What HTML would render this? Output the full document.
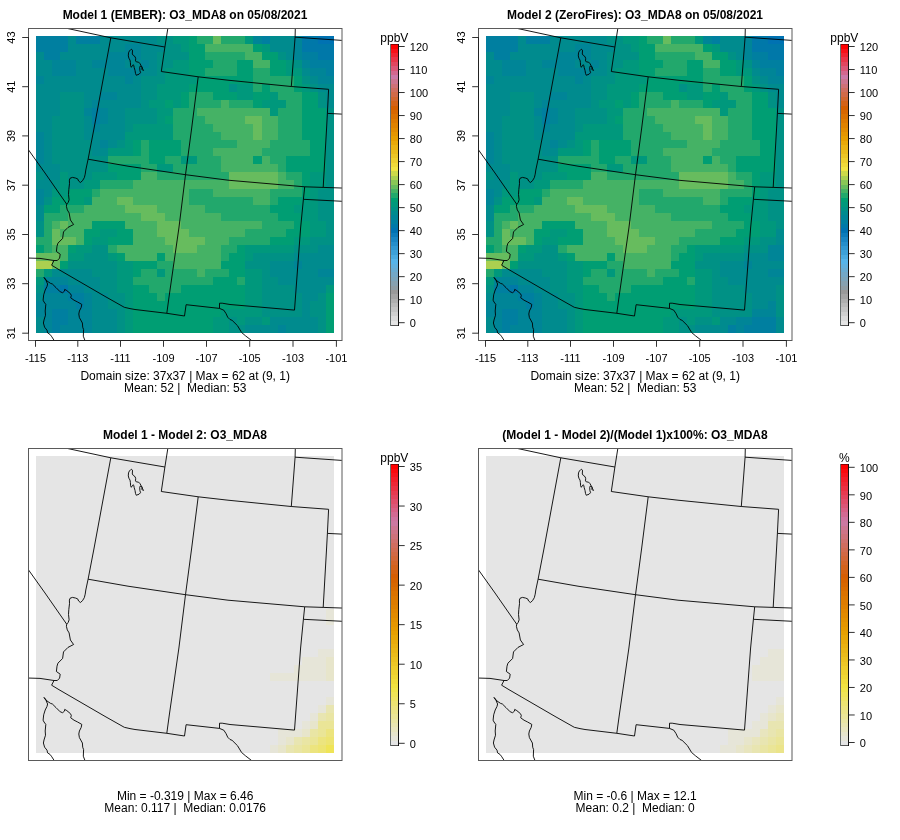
<!DOCTYPE html>
<html><head><meta charset="utf-8"><style>html,body{margin:0;padding:0;background:#fff;}svg{display:block;}</style></head>
<body><svg width="900" height="840" viewBox="0 0 900 840" font-family="Liberation Sans, sans-serif" fill="#000" style="will-change:transform">
<clipPath id="c1"><rect x="28.5" y="28.5" width="313.5" height="312.0"/></clipPath>
<text x="185.0" y="19.0" text-anchor="middle" font-size="12" font-weight="bold">Model 1 (EMBER): O3_MDA8 on 05/08/2021</text>
<g shape-rendering="crispEdges">
<rect x="36.00" y="36.00" width="32.22" height="8.03" fill="#007fa0"/>
<rect x="68.22" y="36.00" width="8.05" height="8.03" fill="#008b8e"/>
<rect x="76.27" y="36.00" width="24.16" height="8.03" fill="#007fa0"/>
<rect x="100.43" y="36.00" width="56.38" height="8.03" fill="#008b8e"/>
<rect x="156.81" y="36.00" width="16.11" height="8.03" fill="#009185"/>
<rect x="172.92" y="36.00" width="16.11" height="8.03" fill="#00987c"/>
<rect x="189.03" y="36.00" width="8.05" height="8.03" fill="#009e73"/>
<rect x="197.08" y="36.00" width="16.11" height="8.03" fill="#22a86c"/>
<rect x="213.19" y="36.00" width="8.05" height="8.03" fill="#67bc5e"/>
<rect x="221.24" y="36.00" width="24.16" height="8.03" fill="#22a86c"/>
<rect x="245.41" y="36.00" width="8.05" height="8.03" fill="#00987c"/>
<rect x="253.46" y="36.00" width="8.05" height="8.03" fill="#008597"/>
<rect x="261.51" y="36.00" width="8.05" height="8.03" fill="#007fa0"/>
<rect x="269.57" y="36.00" width="24.16" height="8.03" fill="#008b8e"/>
<rect x="293.73" y="36.00" width="8.05" height="8.03" fill="#008597"/>
<rect x="301.78" y="36.00" width="16.11" height="8.03" fill="#0078a9"/>
<rect x="317.89" y="36.00" width="16.11" height="8.03" fill="#0072b2"/>
<rect x="36.00" y="44.03" width="32.22" height="8.03" fill="#007fa0"/>
<rect x="68.22" y="44.03" width="56.38" height="8.03" fill="#008b8e"/>
<rect x="124.59" y="44.03" width="16.11" height="8.03" fill="#008597"/>
<rect x="140.70" y="44.03" width="24.16" height="8.03" fill="#008b8e"/>
<rect x="164.86" y="44.03" width="16.11" height="8.03" fill="#009185"/>
<rect x="180.97" y="44.03" width="8.05" height="8.03" fill="#00987c"/>
<rect x="189.03" y="44.03" width="16.11" height="8.03" fill="#009e73"/>
<rect x="205.14" y="44.03" width="48.32" height="8.03" fill="#45b265"/>
<rect x="253.46" y="44.03" width="8.05" height="8.03" fill="#009e73"/>
<rect x="261.51" y="44.03" width="8.05" height="8.03" fill="#00987c"/>
<rect x="269.57" y="44.03" width="24.16" height="8.03" fill="#008b8e"/>
<rect x="293.73" y="44.03" width="8.05" height="8.03" fill="#008597"/>
<rect x="301.78" y="44.03" width="32.22" height="8.03" fill="#0078a9"/>
<rect x="36.00" y="52.05" width="8.05" height="8.03" fill="#008b8e"/>
<rect x="44.05" y="52.05" width="16.11" height="8.03" fill="#007fa0"/>
<rect x="60.16" y="52.05" width="48.32" height="8.03" fill="#008b8e"/>
<rect x="108.49" y="52.05" width="32.22" height="8.03" fill="#008597"/>
<rect x="140.70" y="52.05" width="16.11" height="8.03" fill="#008b8e"/>
<rect x="156.81" y="52.05" width="32.22" height="8.03" fill="#009185"/>
<rect x="189.03" y="52.05" width="16.11" height="8.03" fill="#009e73"/>
<rect x="205.14" y="52.05" width="40.27" height="8.03" fill="#22a86c"/>
<rect x="245.41" y="52.05" width="16.11" height="8.03" fill="#45b265"/>
<rect x="261.51" y="52.05" width="16.11" height="8.03" fill="#009e73"/>
<rect x="277.62" y="52.05" width="8.05" height="8.03" fill="#009185"/>
<rect x="285.68" y="52.05" width="8.05" height="8.03" fill="#008b8e"/>
<rect x="293.73" y="52.05" width="8.05" height="8.03" fill="#008597"/>
<rect x="301.78" y="52.05" width="16.11" height="8.03" fill="#007fa0"/>
<rect x="317.89" y="52.05" width="16.11" height="8.03" fill="#0078a9"/>
<rect x="36.00" y="60.08" width="16.11" height="8.03" fill="#008b8e"/>
<rect x="52.11" y="60.08" width="24.16" height="8.03" fill="#008597"/>
<rect x="76.27" y="60.08" width="16.11" height="8.03" fill="#008b8e"/>
<rect x="92.38" y="60.08" width="32.22" height="8.03" fill="#008597"/>
<rect x="124.59" y="60.08" width="16.11" height="8.03" fill="#008b8e"/>
<rect x="140.70" y="60.08" width="8.05" height="8.03" fill="#008597"/>
<rect x="148.76" y="60.08" width="8.05" height="8.03" fill="#008b8e"/>
<rect x="156.81" y="60.08" width="16.11" height="8.03" fill="#009185"/>
<rect x="172.92" y="60.08" width="16.11" height="8.03" fill="#00987c"/>
<rect x="189.03" y="60.08" width="24.16" height="8.03" fill="#009e73"/>
<rect x="213.19" y="60.08" width="24.16" height="8.03" fill="#22a86c"/>
<rect x="237.35" y="60.08" width="16.11" height="8.03" fill="#009e73"/>
<rect x="253.46" y="60.08" width="16.11" height="8.03" fill="#45b265"/>
<rect x="269.57" y="60.08" width="16.11" height="8.03" fill="#009e73"/>
<rect x="285.68" y="60.08" width="8.05" height="8.03" fill="#00987c"/>
<rect x="293.73" y="60.08" width="8.05" height="8.03" fill="#009185"/>
<rect x="301.78" y="60.08" width="8.05" height="8.03" fill="#008597"/>
<rect x="309.84" y="60.08" width="24.16" height="8.03" fill="#007fa0"/>
<rect x="36.00" y="68.11" width="16.11" height="8.03" fill="#008b8e"/>
<rect x="52.11" y="68.11" width="24.16" height="8.03" fill="#008597"/>
<rect x="76.27" y="68.11" width="32.22" height="8.03" fill="#008b8e"/>
<rect x="108.49" y="68.11" width="32.22" height="8.03" fill="#008597"/>
<rect x="140.70" y="68.11" width="16.11" height="8.03" fill="#008b8e"/>
<rect x="156.81" y="68.11" width="8.05" height="8.03" fill="#009185"/>
<rect x="164.86" y="68.11" width="24.16" height="8.03" fill="#00987c"/>
<rect x="189.03" y="68.11" width="16.11" height="8.03" fill="#009e73"/>
<rect x="205.14" y="68.11" width="32.22" height="8.03" fill="#22a86c"/>
<rect x="237.35" y="68.11" width="16.11" height="8.03" fill="#009e73"/>
<rect x="253.46" y="68.11" width="16.11" height="8.03" fill="#22a86c"/>
<rect x="269.57" y="68.11" width="16.11" height="8.03" fill="#009e73"/>
<rect x="285.68" y="68.11" width="16.11" height="8.03" fill="#00987c"/>
<rect x="301.78" y="68.11" width="8.05" height="8.03" fill="#008b8e"/>
<rect x="309.84" y="68.11" width="16.11" height="8.03" fill="#008597"/>
<rect x="325.95" y="68.11" width="8.05" height="8.03" fill="#007fa0"/>
<rect x="36.00" y="76.14" width="8.05" height="8.03" fill="#008597"/>
<rect x="44.05" y="76.14" width="80.54" height="8.03" fill="#008b8e"/>
<rect x="124.59" y="76.14" width="8.05" height="8.03" fill="#008597"/>
<rect x="132.65" y="76.14" width="8.05" height="8.03" fill="#008b8e"/>
<rect x="140.70" y="76.14" width="24.16" height="8.03" fill="#009185"/>
<rect x="164.86" y="76.14" width="32.22" height="8.03" fill="#00987c"/>
<rect x="197.08" y="76.14" width="56.38" height="8.03" fill="#009e73"/>
<rect x="253.46" y="76.14" width="40.27" height="8.03" fill="#22a86c"/>
<rect x="293.73" y="76.14" width="8.05" height="8.03" fill="#009e73"/>
<rect x="301.78" y="76.14" width="8.05" height="8.03" fill="#009185"/>
<rect x="309.84" y="76.14" width="8.05" height="8.03" fill="#008b8e"/>
<rect x="317.89" y="76.14" width="16.11" height="8.03" fill="#008597"/>
<rect x="36.00" y="84.16" width="104.70" height="8.03" fill="#008b8e"/>
<rect x="140.70" y="84.16" width="16.11" height="8.03" fill="#009185"/>
<rect x="156.81" y="84.16" width="32.22" height="8.03" fill="#00987c"/>
<rect x="189.03" y="84.16" width="40.27" height="8.03" fill="#009e73"/>
<rect x="229.30" y="84.16" width="8.05" height="8.03" fill="#009185"/>
<rect x="237.35" y="84.16" width="16.11" height="8.03" fill="#00987c"/>
<rect x="253.46" y="84.16" width="8.05" height="8.03" fill="#22a86c"/>
<rect x="261.51" y="84.16" width="8.05" height="8.03" fill="#009e73"/>
<rect x="269.57" y="84.16" width="24.16" height="8.03" fill="#22a86c"/>
<rect x="293.73" y="84.16" width="8.05" height="8.03" fill="#009e73"/>
<rect x="301.78" y="84.16" width="8.05" height="8.03" fill="#00987c"/>
<rect x="309.84" y="84.16" width="8.05" height="8.03" fill="#009185"/>
<rect x="317.89" y="84.16" width="16.11" height="8.03" fill="#008b8e"/>
<rect x="36.00" y="92.19" width="24.16" height="8.03" fill="#008b8e"/>
<rect x="60.16" y="92.19" width="24.16" height="8.03" fill="#009185"/>
<rect x="84.32" y="92.19" width="16.11" height="8.03" fill="#008b8e"/>
<rect x="100.43" y="92.19" width="16.11" height="8.03" fill="#008597"/>
<rect x="116.54" y="92.19" width="24.16" height="8.03" fill="#008b8e"/>
<rect x="140.70" y="92.19" width="16.11" height="8.03" fill="#009185"/>
<rect x="156.81" y="92.19" width="24.16" height="8.03" fill="#00987c"/>
<rect x="180.97" y="92.19" width="8.05" height="8.03" fill="#009e73"/>
<rect x="189.03" y="92.19" width="24.16" height="8.03" fill="#22a86c"/>
<rect x="213.19" y="92.19" width="24.16" height="8.03" fill="#009e73"/>
<rect x="237.35" y="92.19" width="16.11" height="8.03" fill="#00987c"/>
<rect x="253.46" y="92.19" width="16.11" height="8.03" fill="#009e73"/>
<rect x="269.57" y="92.19" width="8.05" height="8.03" fill="#00987c"/>
<rect x="277.62" y="92.19" width="24.16" height="8.03" fill="#22a86c"/>
<rect x="301.78" y="92.19" width="16.11" height="8.03" fill="#009e73"/>
<rect x="317.89" y="92.19" width="8.05" height="8.03" fill="#009185"/>
<rect x="325.95" y="92.19" width="8.05" height="8.03" fill="#008b8e"/>
<rect x="36.00" y="100.22" width="24.16" height="8.03" fill="#008b8e"/>
<rect x="60.16" y="100.22" width="24.16" height="8.03" fill="#009185"/>
<rect x="84.32" y="100.22" width="8.05" height="8.03" fill="#008b8e"/>
<rect x="92.38" y="100.22" width="8.05" height="8.03" fill="#008597"/>
<rect x="100.43" y="100.22" width="40.27" height="8.03" fill="#008b8e"/>
<rect x="140.70" y="100.22" width="8.05" height="8.03" fill="#009185"/>
<rect x="148.76" y="100.22" width="16.11" height="8.03" fill="#00987c"/>
<rect x="164.86" y="100.22" width="8.05" height="8.03" fill="#009e73"/>
<rect x="172.92" y="100.22" width="8.05" height="8.03" fill="#00987c"/>
<rect x="180.97" y="100.22" width="8.05" height="8.03" fill="#009e73"/>
<rect x="189.03" y="100.22" width="32.22" height="8.03" fill="#22a86c"/>
<rect x="221.24" y="100.22" width="8.05" height="8.03" fill="#45b265"/>
<rect x="229.30" y="100.22" width="24.16" height="8.03" fill="#22a86c"/>
<rect x="253.46" y="100.22" width="8.05" height="8.03" fill="#009e73"/>
<rect x="261.51" y="100.22" width="24.16" height="8.03" fill="#00987c"/>
<rect x="285.68" y="100.22" width="16.11" height="8.03" fill="#22a86c"/>
<rect x="301.78" y="100.22" width="16.11" height="8.03" fill="#009e73"/>
<rect x="317.89" y="100.22" width="8.05" height="8.03" fill="#009185"/>
<rect x="325.95" y="100.22" width="8.05" height="8.03" fill="#008b8e"/>
<rect x="36.00" y="108.24" width="24.16" height="8.03" fill="#008b8e"/>
<rect x="60.16" y="108.24" width="24.16" height="8.03" fill="#009185"/>
<rect x="84.32" y="108.24" width="8.05" height="8.03" fill="#008597"/>
<rect x="92.38" y="108.24" width="8.05" height="8.03" fill="#007fa0"/>
<rect x="100.43" y="108.24" width="8.05" height="8.03" fill="#008597"/>
<rect x="108.49" y="108.24" width="16.11" height="8.03" fill="#008b8e"/>
<rect x="124.59" y="108.24" width="32.22" height="8.03" fill="#009185"/>
<rect x="156.81" y="108.24" width="16.11" height="8.03" fill="#00987c"/>
<rect x="172.92" y="108.24" width="24.16" height="8.03" fill="#22a86c"/>
<rect x="197.08" y="108.24" width="72.49" height="8.03" fill="#45b265"/>
<rect x="269.57" y="108.24" width="8.05" height="8.03" fill="#00987c"/>
<rect x="277.62" y="108.24" width="24.16" height="8.03" fill="#22a86c"/>
<rect x="301.78" y="108.24" width="24.16" height="8.03" fill="#009e73"/>
<rect x="325.95" y="108.24" width="8.05" height="8.03" fill="#009185"/>
<rect x="36.00" y="116.27" width="16.11" height="8.03" fill="#008b8e"/>
<rect x="52.11" y="116.27" width="32.22" height="8.03" fill="#009185"/>
<rect x="84.32" y="116.27" width="8.05" height="8.03" fill="#008b8e"/>
<rect x="92.38" y="116.27" width="8.05" height="8.03" fill="#007fa0"/>
<rect x="100.43" y="116.27" width="8.05" height="8.03" fill="#008597"/>
<rect x="108.49" y="116.27" width="16.11" height="8.03" fill="#008b8e"/>
<rect x="124.59" y="116.27" width="32.22" height="8.03" fill="#009185"/>
<rect x="156.81" y="116.27" width="8.05" height="8.03" fill="#00987c"/>
<rect x="164.86" y="116.27" width="8.05" height="8.03" fill="#009e73"/>
<rect x="172.92" y="116.27" width="32.22" height="8.03" fill="#22a86c"/>
<rect x="205.14" y="116.27" width="40.27" height="8.03" fill="#45b265"/>
<rect x="245.41" y="116.27" width="16.11" height="8.03" fill="#67bc5e"/>
<rect x="261.51" y="116.27" width="16.11" height="8.03" fill="#45b265"/>
<rect x="277.62" y="116.27" width="24.16" height="8.03" fill="#22a86c"/>
<rect x="301.78" y="116.27" width="24.16" height="8.03" fill="#009e73"/>
<rect x="325.95" y="116.27" width="8.05" height="8.03" fill="#009185"/>
<rect x="36.00" y="124.30" width="16.11" height="8.03" fill="#008b8e"/>
<rect x="52.11" y="124.30" width="32.22" height="8.03" fill="#009185"/>
<rect x="84.32" y="124.30" width="8.05" height="8.03" fill="#008b8e"/>
<rect x="92.38" y="124.30" width="8.05" height="8.03" fill="#008597"/>
<rect x="100.43" y="124.30" width="24.16" height="8.03" fill="#008b8e"/>
<rect x="124.59" y="124.30" width="8.05" height="8.03" fill="#009185"/>
<rect x="132.65" y="124.30" width="40.27" height="8.03" fill="#00987c"/>
<rect x="172.92" y="124.30" width="40.27" height="8.03" fill="#22a86c"/>
<rect x="213.19" y="124.30" width="40.27" height="8.03" fill="#45b265"/>
<rect x="253.46" y="124.30" width="8.05" height="8.03" fill="#67bc5e"/>
<rect x="261.51" y="124.30" width="16.11" height="8.03" fill="#45b265"/>
<rect x="277.62" y="124.30" width="24.16" height="8.03" fill="#22a86c"/>
<rect x="301.78" y="124.30" width="24.16" height="8.03" fill="#009e73"/>
<rect x="325.95" y="124.30" width="8.05" height="8.03" fill="#009185"/>
<rect x="36.00" y="132.32" width="8.05" height="8.03" fill="#008597"/>
<rect x="44.05" y="132.32" width="8.05" height="8.03" fill="#008b8e"/>
<rect x="52.11" y="132.32" width="32.22" height="8.03" fill="#009185"/>
<rect x="84.32" y="132.32" width="40.27" height="8.03" fill="#008b8e"/>
<rect x="124.59" y="132.32" width="48.32" height="8.03" fill="#00987c"/>
<rect x="172.92" y="132.32" width="48.32" height="8.03" fill="#22a86c"/>
<rect x="221.24" y="132.32" width="32.22" height="8.03" fill="#45b265"/>
<rect x="253.46" y="132.32" width="8.05" height="8.03" fill="#67bc5e"/>
<rect x="261.51" y="132.32" width="16.11" height="8.03" fill="#45b265"/>
<rect x="277.62" y="132.32" width="24.16" height="8.03" fill="#22a86c"/>
<rect x="301.78" y="132.32" width="24.16" height="8.03" fill="#009e73"/>
<rect x="325.95" y="132.32" width="8.05" height="8.03" fill="#009185"/>
<rect x="36.00" y="140.35" width="8.05" height="8.03" fill="#008597"/>
<rect x="44.05" y="140.35" width="8.05" height="8.03" fill="#008b8e"/>
<rect x="52.11" y="140.35" width="40.27" height="8.03" fill="#009185"/>
<rect x="92.38" y="140.35" width="8.05" height="8.03" fill="#008b8e"/>
<rect x="100.43" y="140.35" width="8.05" height="8.03" fill="#008597"/>
<rect x="108.49" y="140.35" width="8.05" height="8.03" fill="#008b8e"/>
<rect x="116.54" y="140.35" width="8.05" height="8.03" fill="#009185"/>
<rect x="124.59" y="140.35" width="8.05" height="8.03" fill="#00987c"/>
<rect x="132.65" y="140.35" width="8.05" height="8.03" fill="#009e73"/>
<rect x="140.70" y="140.35" width="8.05" height="8.03" fill="#22a86c"/>
<rect x="148.76" y="140.35" width="32.22" height="8.03" fill="#009e73"/>
<rect x="180.97" y="140.35" width="56.38" height="8.03" fill="#22a86c"/>
<rect x="237.35" y="140.35" width="32.22" height="8.03" fill="#45b265"/>
<rect x="269.57" y="140.35" width="40.27" height="8.03" fill="#22a86c"/>
<rect x="309.84" y="140.35" width="16.11" height="8.03" fill="#009e73"/>
<rect x="325.95" y="140.35" width="8.05" height="8.03" fill="#009185"/>
<rect x="36.00" y="148.38" width="8.05" height="8.03" fill="#008597"/>
<rect x="44.05" y="148.38" width="8.05" height="8.03" fill="#008b8e"/>
<rect x="52.11" y="148.38" width="40.27" height="8.03" fill="#009185"/>
<rect x="92.38" y="148.38" width="16.11" height="8.03" fill="#008b8e"/>
<rect x="108.49" y="148.38" width="24.16" height="8.03" fill="#00987c"/>
<rect x="132.65" y="148.38" width="8.05" height="8.03" fill="#009e73"/>
<rect x="140.70" y="148.38" width="8.05" height="8.03" fill="#22a86c"/>
<rect x="148.76" y="148.38" width="32.22" height="8.03" fill="#009e73"/>
<rect x="180.97" y="148.38" width="32.22" height="8.03" fill="#22a86c"/>
<rect x="213.19" y="148.38" width="48.32" height="8.03" fill="#45b265"/>
<rect x="261.51" y="148.38" width="48.32" height="8.03" fill="#22a86c"/>
<rect x="309.84" y="148.38" width="16.11" height="8.03" fill="#009e73"/>
<rect x="325.95" y="148.38" width="8.05" height="8.03" fill="#009185"/>
<rect x="36.00" y="156.41" width="8.05" height="8.03" fill="#008597"/>
<rect x="44.05" y="156.41" width="8.05" height="8.03" fill="#008b8e"/>
<rect x="52.11" y="156.41" width="56.38" height="8.03" fill="#009185"/>
<rect x="108.49" y="156.41" width="40.27" height="8.03" fill="#22a86c"/>
<rect x="148.76" y="156.41" width="16.11" height="8.03" fill="#009e73"/>
<rect x="164.86" y="156.41" width="16.11" height="8.03" fill="#22a86c"/>
<rect x="180.97" y="156.41" width="16.11" height="8.03" fill="#00987c"/>
<rect x="197.08" y="156.41" width="24.16" height="8.03" fill="#22a86c"/>
<rect x="221.24" y="156.41" width="32.22" height="8.03" fill="#45b265"/>
<rect x="253.46" y="156.41" width="8.05" height="8.03" fill="#009e73"/>
<rect x="261.51" y="156.41" width="8.05" height="8.03" fill="#45b265"/>
<rect x="269.57" y="156.41" width="16.11" height="8.03" fill="#22a86c"/>
<rect x="285.68" y="156.41" width="40.27" height="8.03" fill="#009e73"/>
<rect x="325.95" y="156.41" width="8.05" height="8.03" fill="#009185"/>
<rect x="36.00" y="164.43" width="24.16" height="8.03" fill="#008b8e"/>
<rect x="60.16" y="164.43" width="48.32" height="8.03" fill="#009185"/>
<rect x="108.49" y="164.43" width="32.22" height="8.03" fill="#009e73"/>
<rect x="140.70" y="164.43" width="16.11" height="8.03" fill="#22a86c"/>
<rect x="156.81" y="164.43" width="16.11" height="8.03" fill="#00987c"/>
<rect x="172.92" y="164.43" width="48.32" height="8.03" fill="#22a86c"/>
<rect x="221.24" y="164.43" width="56.38" height="8.03" fill="#45b265"/>
<rect x="277.62" y="164.43" width="8.05" height="8.03" fill="#22a86c"/>
<rect x="285.68" y="164.43" width="40.27" height="8.03" fill="#009e73"/>
<rect x="325.95" y="164.43" width="8.05" height="8.03" fill="#009185"/>
<rect x="36.00" y="172.46" width="8.05" height="8.03" fill="#009185"/>
<rect x="44.05" y="172.46" width="16.11" height="8.03" fill="#008b8e"/>
<rect x="60.16" y="172.46" width="8.05" height="8.03" fill="#00987c"/>
<rect x="68.22" y="172.46" width="24.16" height="8.03" fill="#009185"/>
<rect x="92.38" y="172.46" width="24.16" height="8.03" fill="#00987c"/>
<rect x="116.54" y="172.46" width="24.16" height="8.03" fill="#009e73"/>
<rect x="140.70" y="172.46" width="16.11" height="8.03" fill="#45b265"/>
<rect x="156.81" y="172.46" width="72.49" height="8.03" fill="#22a86c"/>
<rect x="229.30" y="172.46" width="48.32" height="8.03" fill="#67bc5e"/>
<rect x="277.62" y="172.46" width="8.05" height="8.03" fill="#45b265"/>
<rect x="285.68" y="172.46" width="16.11" height="8.03" fill="#22a86c"/>
<rect x="301.78" y="172.46" width="8.05" height="8.03" fill="#009e73"/>
<rect x="309.84" y="172.46" width="16.11" height="8.03" fill="#00987c"/>
<rect x="325.95" y="172.46" width="8.05" height="8.03" fill="#009185"/>
<rect x="36.00" y="180.49" width="16.11" height="8.03" fill="#008b8e"/>
<rect x="52.11" y="180.49" width="8.05" height="8.03" fill="#009185"/>
<rect x="60.16" y="180.49" width="8.05" height="8.03" fill="#00987c"/>
<rect x="68.22" y="180.49" width="16.11" height="8.03" fill="#009185"/>
<rect x="84.32" y="180.49" width="16.11" height="8.03" fill="#00987c"/>
<rect x="100.43" y="180.49" width="32.22" height="8.03" fill="#22a86c"/>
<rect x="132.65" y="180.49" width="96.65" height="8.03" fill="#45b265"/>
<rect x="229.30" y="180.49" width="48.32" height="8.03" fill="#67bc5e"/>
<rect x="277.62" y="180.49" width="16.11" height="8.03" fill="#45b265"/>
<rect x="293.73" y="180.49" width="8.05" height="8.03" fill="#22a86c"/>
<rect x="301.78" y="180.49" width="8.05" height="8.03" fill="#009e73"/>
<rect x="309.84" y="180.49" width="16.11" height="8.03" fill="#00987c"/>
<rect x="325.95" y="180.49" width="8.05" height="8.03" fill="#009185"/>
<rect x="36.00" y="188.51" width="8.05" height="8.03" fill="#008597"/>
<rect x="44.05" y="188.51" width="8.05" height="8.03" fill="#008b8e"/>
<rect x="52.11" y="188.51" width="16.11" height="8.03" fill="#00987c"/>
<rect x="68.22" y="188.51" width="24.16" height="8.03" fill="#009e73"/>
<rect x="92.38" y="188.51" width="8.05" height="8.03" fill="#22a86c"/>
<rect x="100.43" y="188.51" width="88.59" height="8.03" fill="#45b265"/>
<rect x="189.03" y="188.51" width="24.16" height="8.03" fill="#22a86c"/>
<rect x="213.19" y="188.51" width="56.38" height="8.03" fill="#45b265"/>
<rect x="269.57" y="188.51" width="32.22" height="8.03" fill="#22a86c"/>
<rect x="301.78" y="188.51" width="8.05" height="8.03" fill="#009e73"/>
<rect x="309.84" y="188.51" width="8.05" height="8.03" fill="#00987c"/>
<rect x="317.89" y="188.51" width="16.11" height="8.03" fill="#009185"/>
<rect x="36.00" y="196.54" width="8.05" height="8.03" fill="#008597"/>
<rect x="44.05" y="196.54" width="8.05" height="8.03" fill="#009185"/>
<rect x="52.11" y="196.54" width="32.22" height="8.03" fill="#009e73"/>
<rect x="84.32" y="196.54" width="8.05" height="8.03" fill="#00987c"/>
<rect x="92.38" y="196.54" width="24.16" height="8.03" fill="#45b265"/>
<rect x="116.54" y="196.54" width="16.11" height="8.03" fill="#67bc5e"/>
<rect x="132.65" y="196.54" width="56.38" height="8.03" fill="#45b265"/>
<rect x="189.03" y="196.54" width="64.43" height="8.03" fill="#22a86c"/>
<rect x="253.46" y="196.54" width="16.11" height="8.03" fill="#45b265"/>
<rect x="269.57" y="196.54" width="8.05" height="8.03" fill="#22a86c"/>
<rect x="277.62" y="196.54" width="24.16" height="8.03" fill="#009e73"/>
<rect x="301.78" y="196.54" width="16.11" height="8.03" fill="#00987c"/>
<rect x="317.89" y="196.54" width="16.11" height="8.03" fill="#009185"/>
<rect x="36.00" y="204.57" width="8.05" height="8.03" fill="#008b8e"/>
<rect x="44.05" y="204.57" width="16.11" height="8.03" fill="#009e73"/>
<rect x="60.16" y="204.57" width="24.16" height="8.03" fill="#22a86c"/>
<rect x="84.32" y="204.57" width="40.27" height="8.03" fill="#45b265"/>
<rect x="124.59" y="204.57" width="32.22" height="8.03" fill="#67bc5e"/>
<rect x="156.81" y="204.57" width="48.32" height="8.03" fill="#45b265"/>
<rect x="205.14" y="204.57" width="64.43" height="8.03" fill="#22a86c"/>
<rect x="269.57" y="204.57" width="24.16" height="8.03" fill="#009e73"/>
<rect x="293.73" y="204.57" width="24.16" height="8.03" fill="#00987c"/>
<rect x="317.89" y="204.57" width="16.11" height="8.03" fill="#009185"/>
<rect x="36.00" y="212.59" width="8.05" height="8.03" fill="#008b8e"/>
<rect x="44.05" y="212.59" width="24.16" height="8.03" fill="#22a86c"/>
<rect x="68.22" y="212.59" width="72.49" height="8.03" fill="#45b265"/>
<rect x="140.70" y="212.59" width="24.16" height="8.03" fill="#67bc5e"/>
<rect x="164.86" y="212.59" width="56.38" height="8.03" fill="#45b265"/>
<rect x="221.24" y="212.59" width="56.38" height="8.03" fill="#22a86c"/>
<rect x="277.62" y="212.59" width="24.16" height="8.03" fill="#009e73"/>
<rect x="301.78" y="212.59" width="16.11" height="8.03" fill="#00987c"/>
<rect x="317.89" y="212.59" width="16.11" height="8.03" fill="#009185"/>
<rect x="36.00" y="220.62" width="8.05" height="8.03" fill="#009185"/>
<rect x="44.05" y="220.62" width="8.05" height="8.03" fill="#22a86c"/>
<rect x="52.11" y="220.62" width="8.05" height="8.03" fill="#45b265"/>
<rect x="60.16" y="220.62" width="8.05" height="8.03" fill="#67bc5e"/>
<rect x="68.22" y="220.62" width="24.16" height="8.03" fill="#45b265"/>
<rect x="92.38" y="220.62" width="32.22" height="8.03" fill="#009e73"/>
<rect x="124.59" y="220.62" width="32.22" height="8.03" fill="#45b265"/>
<rect x="156.81" y="220.62" width="24.16" height="8.03" fill="#67bc5e"/>
<rect x="180.97" y="220.62" width="80.54" height="8.03" fill="#45b265"/>
<rect x="261.51" y="220.62" width="32.22" height="8.03" fill="#22a86c"/>
<rect x="293.73" y="220.62" width="16.11" height="8.03" fill="#009e73"/>
<rect x="309.84" y="220.62" width="16.11" height="8.03" fill="#00987c"/>
<rect x="325.95" y="220.62" width="8.05" height="8.03" fill="#009185"/>
<rect x="36.00" y="228.65" width="8.05" height="8.03" fill="#009185"/>
<rect x="44.05" y="228.65" width="8.05" height="8.03" fill="#22a86c"/>
<rect x="52.11" y="228.65" width="8.05" height="8.03" fill="#67bc5e"/>
<rect x="60.16" y="228.65" width="24.16" height="8.03" fill="#45b265"/>
<rect x="84.32" y="228.65" width="16.11" height="8.03" fill="#009e73"/>
<rect x="100.43" y="228.65" width="16.11" height="8.03" fill="#00987c"/>
<rect x="116.54" y="228.65" width="16.11" height="8.03" fill="#009e73"/>
<rect x="132.65" y="228.65" width="24.16" height="8.03" fill="#45b265"/>
<rect x="156.81" y="228.65" width="32.22" height="8.03" fill="#67bc5e"/>
<rect x="189.03" y="228.65" width="56.38" height="8.03" fill="#45b265"/>
<rect x="245.41" y="228.65" width="40.27" height="8.03" fill="#22a86c"/>
<rect x="285.68" y="228.65" width="24.16" height="8.03" fill="#009e73"/>
<rect x="309.84" y="228.65" width="16.11" height="8.03" fill="#00987c"/>
<rect x="325.95" y="228.65" width="8.05" height="8.03" fill="#009185"/>
<rect x="36.00" y="236.68" width="16.11" height="8.03" fill="#22a86c"/>
<rect x="52.11" y="236.68" width="24.16" height="8.03" fill="#67bc5e"/>
<rect x="76.27" y="236.68" width="8.05" height="8.03" fill="#45b265"/>
<rect x="84.32" y="236.68" width="8.05" height="8.03" fill="#009e73"/>
<rect x="92.38" y="236.68" width="16.11" height="8.03" fill="#00987c"/>
<rect x="108.49" y="236.68" width="24.16" height="8.03" fill="#009e73"/>
<rect x="132.65" y="236.68" width="32.22" height="8.03" fill="#45b265"/>
<rect x="164.86" y="236.68" width="40.27" height="8.03" fill="#67bc5e"/>
<rect x="205.14" y="236.68" width="24.16" height="8.03" fill="#45b265"/>
<rect x="229.30" y="236.68" width="40.27" height="8.03" fill="#22a86c"/>
<rect x="269.57" y="236.68" width="24.16" height="8.03" fill="#009e73"/>
<rect x="293.73" y="236.68" width="16.11" height="8.03" fill="#00987c"/>
<rect x="309.84" y="236.68" width="24.16" height="8.03" fill="#009185"/>
<rect x="36.00" y="244.70" width="8.05" height="8.03" fill="#009e73"/>
<rect x="44.05" y="244.70" width="8.05" height="8.03" fill="#22a86c"/>
<rect x="52.11" y="244.70" width="16.11" height="8.03" fill="#45b265"/>
<rect x="68.22" y="244.70" width="8.05" height="8.03" fill="#009e73"/>
<rect x="76.27" y="244.70" width="16.11" height="8.03" fill="#00987c"/>
<rect x="92.38" y="244.70" width="16.11" height="8.03" fill="#009185"/>
<rect x="108.49" y="244.70" width="8.05" height="8.03" fill="#22a86c"/>
<rect x="116.54" y="244.70" width="56.38" height="8.03" fill="#45b265"/>
<rect x="172.92" y="244.70" width="24.16" height="8.03" fill="#67bc5e"/>
<rect x="197.08" y="244.70" width="24.16" height="8.03" fill="#45b265"/>
<rect x="221.24" y="244.70" width="16.11" height="8.03" fill="#22a86c"/>
<rect x="237.35" y="244.70" width="8.05" height="8.03" fill="#009e73"/>
<rect x="245.41" y="244.70" width="48.32" height="8.03" fill="#00987c"/>
<rect x="293.73" y="244.70" width="24.16" height="8.03" fill="#009185"/>
<rect x="317.89" y="244.70" width="16.11" height="8.03" fill="#008b8e"/>
<rect x="36.00" y="252.73" width="24.16" height="8.03" fill="#67bc5e"/>
<rect x="60.16" y="252.73" width="8.05" height="8.03" fill="#45b265"/>
<rect x="68.22" y="252.73" width="16.11" height="8.03" fill="#00987c"/>
<rect x="84.32" y="252.73" width="24.16" height="8.03" fill="#009185"/>
<rect x="108.49" y="252.73" width="8.05" height="8.03" fill="#00987c"/>
<rect x="116.54" y="252.73" width="8.05" height="8.03" fill="#009e73"/>
<rect x="124.59" y="252.73" width="32.22" height="8.03" fill="#45b265"/>
<rect x="156.81" y="252.73" width="8.05" height="8.03" fill="#009e73"/>
<rect x="164.86" y="252.73" width="56.38" height="8.03" fill="#45b265"/>
<rect x="221.24" y="252.73" width="8.05" height="8.03" fill="#22a86c"/>
<rect x="229.30" y="252.73" width="16.11" height="8.03" fill="#009e73"/>
<rect x="245.41" y="252.73" width="8.05" height="8.03" fill="#00987c"/>
<rect x="253.46" y="252.73" width="40.27" height="8.03" fill="#009185"/>
<rect x="293.73" y="252.73" width="40.27" height="8.03" fill="#008b8e"/>
<rect x="36.00" y="260.76" width="16.11" height="8.03" fill="#abd050"/>
<rect x="52.11" y="260.76" width="8.05" height="8.03" fill="#67bc5e"/>
<rect x="60.16" y="260.76" width="8.05" height="8.03" fill="#009e73"/>
<rect x="68.22" y="260.76" width="48.32" height="8.03" fill="#009185"/>
<rect x="116.54" y="260.76" width="16.11" height="8.03" fill="#00987c"/>
<rect x="132.65" y="260.76" width="24.16" height="8.03" fill="#009e73"/>
<rect x="156.81" y="260.76" width="16.11" height="8.03" fill="#22a86c"/>
<rect x="172.92" y="260.76" width="48.32" height="8.03" fill="#45b265"/>
<rect x="221.24" y="260.76" width="24.16" height="8.03" fill="#009e73"/>
<rect x="245.41" y="260.76" width="24.16" height="8.03" fill="#009185"/>
<rect x="269.57" y="260.76" width="24.16" height="8.03" fill="#008b8e"/>
<rect x="293.73" y="260.76" width="8.05" height="8.03" fill="#008597"/>
<rect x="301.78" y="260.76" width="32.22" height="8.03" fill="#008b8e"/>
<rect x="36.00" y="268.78" width="8.05" height="8.03" fill="#22a86c"/>
<rect x="44.05" y="268.78" width="8.05" height="8.03" fill="#00987c"/>
<rect x="52.11" y="268.78" width="40.27" height="8.03" fill="#008b8e"/>
<rect x="92.38" y="268.78" width="24.16" height="8.03" fill="#009185"/>
<rect x="116.54" y="268.78" width="16.11" height="8.03" fill="#00987c"/>
<rect x="132.65" y="268.78" width="8.05" height="8.03" fill="#009e73"/>
<rect x="140.70" y="268.78" width="16.11" height="8.03" fill="#22a86c"/>
<rect x="156.81" y="268.78" width="8.05" height="8.03" fill="#00987c"/>
<rect x="164.86" y="268.78" width="32.22" height="8.03" fill="#22a86c"/>
<rect x="197.08" y="268.78" width="8.05" height="8.03" fill="#45b265"/>
<rect x="205.14" y="268.78" width="24.16" height="8.03" fill="#22a86c"/>
<rect x="229.30" y="268.78" width="16.11" height="8.03" fill="#009e73"/>
<rect x="245.41" y="268.78" width="16.11" height="8.03" fill="#00987c"/>
<rect x="261.51" y="268.78" width="8.05" height="8.03" fill="#009185"/>
<rect x="269.57" y="268.78" width="48.32" height="8.03" fill="#008b8e"/>
<rect x="317.89" y="268.78" width="16.11" height="8.03" fill="#008597"/>
<rect x="36.00" y="276.81" width="8.05" height="8.03" fill="#00987c"/>
<rect x="44.05" y="276.81" width="24.16" height="8.03" fill="#008597"/>
<rect x="68.22" y="276.81" width="32.22" height="8.03" fill="#008b8e"/>
<rect x="100.43" y="276.81" width="16.11" height="8.03" fill="#009185"/>
<rect x="116.54" y="276.81" width="16.11" height="8.03" fill="#00987c"/>
<rect x="132.65" y="276.81" width="80.54" height="8.03" fill="#22a86c"/>
<rect x="213.19" y="276.81" width="24.16" height="8.03" fill="#009e73"/>
<rect x="237.35" y="276.81" width="8.05" height="8.03" fill="#22a86c"/>
<rect x="245.41" y="276.81" width="16.11" height="8.03" fill="#00987c"/>
<rect x="261.51" y="276.81" width="16.11" height="8.03" fill="#009185"/>
<rect x="277.62" y="276.81" width="56.38" height="8.03" fill="#008b8e"/>
<rect x="36.00" y="284.84" width="8.05" height="8.03" fill="#009185"/>
<rect x="44.05" y="284.84" width="16.11" height="8.03" fill="#007fa0"/>
<rect x="60.16" y="284.84" width="8.05" height="8.03" fill="#0078a9"/>
<rect x="68.22" y="284.84" width="16.11" height="8.03" fill="#008597"/>
<rect x="84.32" y="284.84" width="16.11" height="8.03" fill="#008b8e"/>
<rect x="100.43" y="284.84" width="16.11" height="8.03" fill="#009185"/>
<rect x="116.54" y="284.84" width="16.11" height="8.03" fill="#00987c"/>
<rect x="132.65" y="284.84" width="16.11" height="8.03" fill="#009e73"/>
<rect x="148.76" y="284.84" width="32.22" height="8.03" fill="#22a86c"/>
<rect x="180.97" y="284.84" width="64.43" height="8.03" fill="#009e73"/>
<rect x="245.41" y="284.84" width="16.11" height="8.03" fill="#00987c"/>
<rect x="261.51" y="284.84" width="32.22" height="8.03" fill="#009185"/>
<rect x="293.73" y="284.84" width="32.22" height="8.03" fill="#008b8e"/>
<rect x="325.95" y="284.84" width="8.05" height="8.03" fill="#00987c"/>
<rect x="36.00" y="292.86" width="8.05" height="8.03" fill="#008b8e"/>
<rect x="44.05" y="292.86" width="24.16" height="8.03" fill="#008597"/>
<rect x="68.22" y="292.86" width="16.11" height="8.03" fill="#007fa0"/>
<rect x="84.32" y="292.86" width="8.05" height="8.03" fill="#008597"/>
<rect x="92.38" y="292.86" width="16.11" height="8.03" fill="#008b8e"/>
<rect x="108.49" y="292.86" width="16.11" height="8.03" fill="#009185"/>
<rect x="124.59" y="292.86" width="8.05" height="8.03" fill="#00987c"/>
<rect x="132.65" y="292.86" width="24.16" height="8.03" fill="#009e73"/>
<rect x="156.81" y="292.86" width="8.05" height="8.03" fill="#22a86c"/>
<rect x="164.86" y="292.86" width="80.54" height="8.03" fill="#009e73"/>
<rect x="245.41" y="292.86" width="16.11" height="8.03" fill="#00987c"/>
<rect x="261.51" y="292.86" width="40.27" height="8.03" fill="#009185"/>
<rect x="301.78" y="292.86" width="16.11" height="8.03" fill="#008b8e"/>
<rect x="317.89" y="292.86" width="8.05" height="8.03" fill="#009185"/>
<rect x="325.95" y="292.86" width="8.05" height="8.03" fill="#009e73"/>
<rect x="36.00" y="300.89" width="40.27" height="8.03" fill="#008597"/>
<rect x="76.27" y="300.89" width="8.05" height="8.03" fill="#007fa0"/>
<rect x="84.32" y="300.89" width="8.05" height="8.03" fill="#008597"/>
<rect x="92.38" y="300.89" width="16.11" height="8.03" fill="#008b8e"/>
<rect x="108.49" y="300.89" width="16.11" height="8.03" fill="#009185"/>
<rect x="124.59" y="300.89" width="8.05" height="8.03" fill="#00987c"/>
<rect x="132.65" y="300.89" width="112.76" height="8.03" fill="#009e73"/>
<rect x="245.41" y="300.89" width="16.11" height="8.03" fill="#00987c"/>
<rect x="261.51" y="300.89" width="40.27" height="8.03" fill="#009185"/>
<rect x="301.78" y="300.89" width="8.05" height="8.03" fill="#008b8e"/>
<rect x="309.84" y="300.89" width="16.11" height="8.03" fill="#009185"/>
<rect x="325.95" y="300.89" width="8.05" height="8.03" fill="#009e73"/>
<rect x="36.00" y="308.92" width="16.11" height="8.03" fill="#008597"/>
<rect x="52.11" y="308.92" width="16.11" height="8.03" fill="#007fa0"/>
<rect x="68.22" y="308.92" width="24.16" height="8.03" fill="#008597"/>
<rect x="92.38" y="308.92" width="24.16" height="8.03" fill="#008b8e"/>
<rect x="116.54" y="308.92" width="8.05" height="8.03" fill="#009185"/>
<rect x="124.59" y="308.92" width="8.05" height="8.03" fill="#00987c"/>
<rect x="132.65" y="308.92" width="88.59" height="8.03" fill="#009e73"/>
<rect x="221.24" y="308.92" width="40.27" height="8.03" fill="#00987c"/>
<rect x="261.51" y="308.92" width="40.27" height="8.03" fill="#009185"/>
<rect x="301.78" y="308.92" width="8.05" height="8.03" fill="#008b8e"/>
<rect x="309.84" y="308.92" width="16.11" height="8.03" fill="#009185"/>
<rect x="325.95" y="308.92" width="8.05" height="8.03" fill="#009e73"/>
<rect x="36.00" y="316.95" width="8.05" height="8.03" fill="#008b8e"/>
<rect x="44.05" y="316.95" width="8.05" height="8.03" fill="#008597"/>
<rect x="52.11" y="316.95" width="16.11" height="8.03" fill="#007fa0"/>
<rect x="68.22" y="316.95" width="24.16" height="8.03" fill="#008597"/>
<rect x="92.38" y="316.95" width="24.16" height="8.03" fill="#008b8e"/>
<rect x="116.54" y="316.95" width="8.05" height="8.03" fill="#009185"/>
<rect x="124.59" y="316.95" width="8.05" height="8.03" fill="#00987c"/>
<rect x="132.65" y="316.95" width="80.54" height="8.03" fill="#009e73"/>
<rect x="213.19" y="316.95" width="16.11" height="8.03" fill="#00987c"/>
<rect x="229.30" y="316.95" width="8.05" height="8.03" fill="#009185"/>
<rect x="237.35" y="316.95" width="8.05" height="8.03" fill="#00987c"/>
<rect x="245.41" y="316.95" width="16.11" height="8.03" fill="#009185"/>
<rect x="261.51" y="316.95" width="8.05" height="8.03" fill="#00987c"/>
<rect x="269.57" y="316.95" width="48.32" height="8.03" fill="#008b8e"/>
<rect x="317.89" y="316.95" width="8.05" height="8.03" fill="#009185"/>
<rect x="325.95" y="316.95" width="8.05" height="8.03" fill="#009e73"/>
<rect x="36.00" y="324.97" width="8.05" height="8.03" fill="#008b8e"/>
<rect x="44.05" y="324.97" width="8.05" height="8.03" fill="#008597"/>
<rect x="52.11" y="324.97" width="8.05" height="8.03" fill="#007fa0"/>
<rect x="60.16" y="324.97" width="32.22" height="8.03" fill="#008597"/>
<rect x="92.38" y="324.97" width="24.16" height="8.03" fill="#008b8e"/>
<rect x="116.54" y="324.97" width="8.05" height="8.03" fill="#009185"/>
<rect x="124.59" y="324.97" width="8.05" height="8.03" fill="#00987c"/>
<rect x="132.65" y="324.97" width="80.54" height="8.03" fill="#009e73"/>
<rect x="213.19" y="324.97" width="16.11" height="8.03" fill="#00987c"/>
<rect x="229.30" y="324.97" width="16.11" height="8.03" fill="#009185"/>
<rect x="245.41" y="324.97" width="32.22" height="8.03" fill="#008b8e"/>
<rect x="277.62" y="324.97" width="8.05" height="8.03" fill="#008597"/>
<rect x="285.68" y="324.97" width="32.22" height="8.03" fill="#008b8e"/>
<rect x="317.89" y="324.97" width="8.05" height="8.03" fill="#009185"/>
<rect x="325.95" y="324.97" width="8.05" height="8.03" fill="#009e73"/>
</g>
<g clip-path="url(#c1)" fill="none" stroke="#000" stroke-width="0.9" stroke-linejoin="round">
<polyline points="50.0,24.7 65.3,28.0 110.8,37.8 164.9,47.0"/>
<polyline points="169.2,20.0 167.9,28.0 164.9,47.0 161.3,71.5"/>
<polyline points="161.3,71.5 198.2,76.8 228.0,80.2 291.3,86.5 328.6,89.3"/>
<polyline points="295.4,20.0 295.3,28.0 295.1,37.2 291.3,86.5"/>
<polyline points="295.1,37.2 341.7,40.4 350.0,41.0"/>
<polyline points="328.6,89.3 327.4,113.4 350.0,114.5"/>
<polyline points="327.4,113.4 326.6,128.0 323.2,187.4"/>
<polyline points="88.1,159.2 128.0,166.2 185.5,174.7 228.0,180.2 304.7,186.8 323.2,187.4 350.0,188.3"/>
<polyline points="304.7,186.8 303.4,199.3 350.0,201.7"/>
<polyline points="303.4,199.3 300.6,228.0 294.5,310.1"/>
<polyline points="219.5,303.2 222.2,303.2 230.0,304.5 294.5,310.1"/>
<polyline points="198.2,76.8 191.7,128.0 185.5,174.7 178.9,228.0 169.3,295.0 166.8,313.3"/>
<polyline points="110.8,37.8 94.1,128.0 88.1,159.2"/>
<polyline points="88.1,159.2 85.8,170.0 85.2,174.2 84.3,177.7 82.5,180.7 80.4,182.5 78.6,181.0 77.7,178.9 75.4,178.0 72.4,177.4 70.0,178.3 69.4,180.1 69.5,183.7 68.8,189.6 68.5,194.4 69.1,199.8 68.2,202.4 66.7,204.2 66.4,206.3 67.3,209.9 69.1,212.9 70.4,220.0 73.6,224.5 68.0,227.4 63.5,231.9 62.6,238.5 57.9,243.2 57.0,246.2 56.4,251.5 60.2,254.2 59.6,258.1 57.3,260.5 54.0,260.5 51.6,265.2 59.0,269.7 105.0,296.4 124.3,307.3 130.0,308.6 135.0,309.5 166.8,313.3 184.5,316.0 186.1,304.7 219.5,308.4 219.5,303.2"/>
<polyline points="219.5,308.4 223.8,310.2 226.1,313.7 227.7,317.2 230.0,319.5 232.1,320.3 237.5,325.7 241.6,332.5 245.6,335.9 251.7,340.6 254.0,343.0"/>
<polyline points="20.0,137.7 28.0,149.2 45.0,173.0 66.7,204.2"/>
<polyline points="20.0,257.8 40.0,258.4 54.0,260.5"/>
<polyline points="44.0,277.4 47.0,281.0 50.6,283.4 52.4,284.0 56.0,287.6 60.2,291.8 62.6,292.7 64.4,291.2 64.7,289.4 66.8,290.6 70.4,293.6 71.3,295.4 70.7,297.8 74.0,300.2 77.6,302.0 81.8,304.4 81.2,307.4 79.4,311.0 78.8,314.0 79.4,317.6 82.4,323.0 82.7,327.2 83.6,329.6 83.3,336.2 84.8,340.1 85.5,343.0"/>
<polyline points="44.0,277.4 46.0,280.5 47.6,284.0 47.0,286.4 45.2,290.0 43.7,294.8 43.1,300.2 44.0,302.0 45.8,304.4 45.2,311.0 45.5,315.2 44.0,320.0 43.4,323.0 44.6,327.2 47.0,330.2 47.6,332.9 50.0,334.4 51.8,336.8 53.9,340.1 55.5,343.0"/>
<polyline points="131.7,49.4 132.5,50.2 132.3,54.0 133.4,55.5 135.1,56.7 135.7,58.6 135.5,60.9 136.5,62.0 138.4,62.0 139.9,63.5 141.0,65.4 142.2,67.3 142.6,68.9 143.5,70.4 142.8,70.4 142.0,69.6 141.8,67.3 141.0,66.2 140.1,66.2 139.7,67.3 139.9,70.4 140.5,72.7 139.1,74.2 136.9,75.0 136.3,75.3 135.5,73.4 135.0,70.4 134.2,67.7 133.8,65.4 133.0,64.7 132.3,65.8 131.3,67.3 130.6,65.8 130.4,62.4 130.0,60.1 128.9,58.2 128.3,55.9 128.5,52.9 129.4,51.0 130.8,49.6 131.7,49.4"/>
</g>
<rect x="28.5" y="28.5" width="313.5" height="312" fill="none" stroke="#5a5a5a" stroke-width="1"/>
<line x1="35.0" y1="340.5" x2="336.9" y2="340.5" stroke="#222"/>
<line x1="28.5" y1="37.0" x2="28.5" y2="333.7" stroke="#222"/>
<line x1="35.5" y1="340.5" x2="35.5" y2="346.8" stroke="#333" stroke-width="1"/>
<text x="35.5" y="362" text-anchor="middle" font-size="11">-115</text>
<line x1="77.8" y1="340.5" x2="77.8" y2="346.8" stroke="#333" stroke-width="1"/>
<text x="77.8" y="362" text-anchor="middle" font-size="11">-113</text>
<line x1="120.5" y1="340.5" x2="120.5" y2="346.8" stroke="#333" stroke-width="1"/>
<text x="120.5" y="362" text-anchor="middle" font-size="11">-111</text>
<line x1="163.5" y1="340.5" x2="163.5" y2="346.8" stroke="#333" stroke-width="1"/>
<text x="163.5" y="362" text-anchor="middle" font-size="11">-109</text>
<line x1="206.5" y1="340.5" x2="206.5" y2="346.8" stroke="#333" stroke-width="1"/>
<text x="206.5" y="362" text-anchor="middle" font-size="11">-107</text>
<line x1="249.7" y1="340.5" x2="249.7" y2="346.8" stroke="#333" stroke-width="1"/>
<text x="249.7" y="362" text-anchor="middle" font-size="11">-105</text>
<line x1="293.0" y1="340.5" x2="293.0" y2="346.8" stroke="#333" stroke-width="1"/>
<text x="293.0" y="362" text-anchor="middle" font-size="11">-103</text>
<line x1="336.4" y1="340.5" x2="336.4" y2="346.8" stroke="#333" stroke-width="1"/>
<text x="336.4" y="362" text-anchor="middle" font-size="11">-101</text>
<line x1="22.2" y1="37.5" x2="28.5" y2="37.5" stroke="#333" stroke-width="1"/>
<text transform="translate(14.6 37.5) rotate(-90)" text-anchor="middle" font-size="11">43</text>
<line x1="22.2" y1="86.7" x2="28.5" y2="86.7" stroke="#333" stroke-width="1"/>
<text transform="translate(14.6 86.7) rotate(-90)" text-anchor="middle" font-size="11">41</text>
<line x1="22.2" y1="135.9" x2="28.5" y2="135.9" stroke="#333" stroke-width="1"/>
<text transform="translate(14.6 135.9) rotate(-90)" text-anchor="middle" font-size="11">39</text>
<line x1="22.2" y1="185.2" x2="28.5" y2="185.2" stroke="#333" stroke-width="1"/>
<text transform="translate(14.6 185.2) rotate(-90)" text-anchor="middle" font-size="11">37</text>
<line x1="22.2" y1="234.5" x2="28.5" y2="234.5" stroke="#333" stroke-width="1"/>
<text transform="translate(14.6 234.5) rotate(-90)" text-anchor="middle" font-size="11">35</text>
<line x1="22.2" y1="283.7" x2="28.5" y2="283.7" stroke="#333" stroke-width="1"/>
<text transform="translate(14.6 283.7) rotate(-90)" text-anchor="middle" font-size="11">33</text>
<line x1="22.2" y1="333.2" x2="28.5" y2="333.2" stroke="#333" stroke-width="1"/>
<text transform="translate(14.6 333.2) rotate(-90)" text-anchor="middle" font-size="11">31</text>
<text x="185.2" y="380.4" text-anchor="middle" font-size="12">Domain size: 37x37 | Max = 62 at (9, 1)</text>
<text x="185.2" y="392.4" text-anchor="middle" font-size="12" xml:space="preserve">Mean: 52 |  Median: 53</text>
<g shape-rendering="crispEdges">
<rect x="391.0" y="320.61" width="7" height="4.39" fill="#e5e5e5"/>
<rect x="391.0" y="316.22" width="7" height="4.39" fill="#dadada"/>
<rect x="391.0" y="311.84" width="7" height="4.39" fill="#cfcfcf"/>
<rect x="391.0" y="307.45" width="7" height="4.39" fill="#c4c4c4"/>
<rect x="391.0" y="303.06" width="7" height="4.39" fill="#bababa"/>
<rect x="391.0" y="298.67" width="7" height="4.39" fill="#afafaf"/>
<rect x="391.0" y="294.29" width="7" height="4.39" fill="#a4a4a4"/>
<rect x="391.0" y="289.90" width="7" height="4.39" fill="#999999"/>
<rect x="391.0" y="285.51" width="7" height="4.39" fill="#8f9da4"/>
<rect x="391.0" y="281.12" width="7" height="4.39" fill="#86a1b0"/>
<rect x="391.0" y="276.74" width="7" height="4.39" fill="#7ca5bb"/>
<rect x="391.0" y="272.35" width="7" height="4.39" fill="#73a8c7"/>
<rect x="391.0" y="267.96" width="7" height="4.39" fill="#69acd2"/>
<rect x="391.0" y="263.57" width="7" height="4.39" fill="#60b0de"/>
<rect x="391.0" y="259.19" width="7" height="4.39" fill="#56b4e9"/>
<rect x="391.0" y="254.80" width="7" height="4.39" fill="#4aabe1"/>
<rect x="391.0" y="250.41" width="7" height="4.39" fill="#3da1d9"/>
<rect x="391.0" y="246.02" width="7" height="4.39" fill="#3198d1"/>
<rect x="391.0" y="241.64" width="7" height="4.39" fill="#258eca"/>
<rect x="391.0" y="237.25" width="7" height="4.39" fill="#1985c2"/>
<rect x="391.0" y="232.86" width="7" height="4.39" fill="#0c7bba"/>
<rect x="391.0" y="228.47" width="7" height="4.39" fill="#0072b2"/>
<rect x="391.0" y="224.09" width="7" height="4.39" fill="#0078a9"/>
<rect x="391.0" y="219.70" width="7" height="4.39" fill="#007fa0"/>
<rect x="391.0" y="215.31" width="7" height="4.39" fill="#008597"/>
<rect x="391.0" y="210.92" width="7" height="4.39" fill="#008b8e"/>
<rect x="391.0" y="206.54" width="7" height="4.39" fill="#009185"/>
<rect x="391.0" y="202.15" width="7" height="4.39" fill="#00987c"/>
<rect x="391.0" y="197.76" width="7" height="4.39" fill="#009e73"/>
<rect x="391.0" y="193.37" width="7" height="4.39" fill="#22a86c"/>
<rect x="391.0" y="188.99" width="7" height="4.39" fill="#45b265"/>
<rect x="391.0" y="184.60" width="7" height="4.39" fill="#67bc5e"/>
<rect x="391.0" y="180.21" width="7" height="4.39" fill="#89c657"/>
<rect x="391.0" y="175.82" width="7" height="4.39" fill="#abd050"/>
<rect x="391.0" y="171.44" width="7" height="4.39" fill="#ceda49"/>
<rect x="391.0" y="167.05" width="7" height="4.39" fill="#f0e442"/>
<rect x="391.0" y="162.66" width="7" height="4.39" fill="#efda39"/>
<rect x="391.0" y="158.27" width="7" height="4.39" fill="#edd02f"/>
<rect x="391.0" y="153.89" width="7" height="4.39" fill="#ecc626"/>
<rect x="391.0" y="149.50" width="7" height="4.39" fill="#eabd1c"/>
<rect x="391.0" y="145.11" width="7" height="4.39" fill="#e9b313"/>
<rect x="391.0" y="140.72" width="7" height="4.39" fill="#e7a909"/>
<rect x="391.0" y="136.34" width="7" height="4.39" fill="#e69f00"/>
<rect x="391.0" y="131.95" width="7" height="4.39" fill="#e49600"/>
<rect x="391.0" y="127.56" width="7" height="4.39" fill="#e18c00"/>
<rect x="391.0" y="123.17" width="7" height="4.39" fill="#df8300"/>
<rect x="391.0" y="118.79" width="7" height="4.39" fill="#dc7a00"/>
<rect x="391.0" y="114.40" width="7" height="4.39" fill="#da7100"/>
<rect x="391.0" y="110.01" width="7" height="4.39" fill="#d76700"/>
<rect x="391.0" y="105.62" width="7" height="4.39" fill="#d55e00"/>
<rect x="391.0" y="101.24" width="7" height="4.39" fill="#d46218"/>
<rect x="391.0" y="96.85" width="7" height="4.39" fill="#d26630"/>
<rect x="391.0" y="92.46" width="7" height="4.39" fill="#d16a48"/>
<rect x="391.0" y="88.07" width="7" height="4.39" fill="#d06d5f"/>
<rect x="391.0" y="83.69" width="7" height="4.39" fill="#cf7177"/>
<rect x="391.0" y="79.30" width="7" height="4.39" fill="#cd758f"/>
<rect x="391.0" y="74.91" width="7" height="4.39" fill="#cc79a7"/>
<rect x="391.0" y="70.52" width="7" height="4.39" fill="#d3688f"/>
<rect x="391.0" y="66.14" width="7" height="4.39" fill="#db5677"/>
<rect x="391.0" y="61.75" width="7" height="4.39" fill="#e2455f"/>
<rect x="391.0" y="57.36" width="7" height="4.39" fill="#e93448"/>
<rect x="391.0" y="52.97" width="7" height="4.39" fill="#f02330"/>
<rect x="391.0" y="48.59" width="7" height="4.39" fill="#f81118"/>
<rect x="391.0" y="44.20" width="7" height="4.39" fill="#ff0000"/>
</g>
<line x1="391.0" y1="44.5" x2="398.0" y2="44.5" stroke="#000" stroke-opacity="0.45"/>
<line x1="390.0" y1="325.5" x2="399.0" y2="325.5" stroke="#555"/>
<line x1="390.5" y1="44.0" x2="390.5" y2="326.0" stroke="#687070"/>
<line x1="398.5" y1="44.0" x2="398.5" y2="326.0" stroke="#111"/>
<line x1="399.0" y1="322.70" x2="404.7" y2="322.70" stroke="#333" stroke-width="1"/>
<text x="409.8" y="327.40" font-size="11">0</text>
<line x1="399.0" y1="299.68" x2="404.7" y2="299.68" stroke="#333" stroke-width="1"/>
<text x="409.8" y="304.38" font-size="11">10</text>
<line x1="399.0" y1="276.67" x2="404.7" y2="276.67" stroke="#333" stroke-width="1"/>
<text x="409.8" y="281.37" font-size="11">20</text>
<line x1="399.0" y1="253.65" x2="404.7" y2="253.65" stroke="#333" stroke-width="1"/>
<text x="409.8" y="258.35" font-size="11">30</text>
<line x1="399.0" y1="230.63" x2="404.7" y2="230.63" stroke="#333" stroke-width="1"/>
<text x="409.8" y="235.33" font-size="11">40</text>
<line x1="399.0" y1="207.62" x2="404.7" y2="207.62" stroke="#333" stroke-width="1"/>
<text x="409.8" y="212.32" font-size="11">50</text>
<line x1="399.0" y1="184.60" x2="404.7" y2="184.60" stroke="#333" stroke-width="1"/>
<text x="409.8" y="189.30" font-size="11">60</text>
<line x1="399.0" y1="161.58" x2="404.7" y2="161.58" stroke="#333" stroke-width="1"/>
<text x="409.8" y="166.28" font-size="11">70</text>
<line x1="399.0" y1="138.57" x2="404.7" y2="138.57" stroke="#333" stroke-width="1"/>
<text x="409.8" y="143.27" font-size="11">80</text>
<line x1="399.0" y1="115.55" x2="404.7" y2="115.55" stroke="#333" stroke-width="1"/>
<text x="409.8" y="120.25" font-size="11">90</text>
<line x1="399.0" y1="92.53" x2="404.7" y2="92.53" stroke="#333" stroke-width="1"/>
<text x="409.8" y="97.23" font-size="11">100</text>
<line x1="399.0" y1="69.52" x2="404.7" y2="69.52" stroke="#333" stroke-width="1"/>
<text x="409.8" y="74.22" font-size="11">110</text>
<line x1="399.0" y1="46.50" x2="404.7" y2="46.50" stroke="#333" stroke-width="1"/>
<text x="409.8" y="51.20" font-size="11">120</text>
<text x="394.3" y="41.7" font-size="12" text-anchor="middle">ppbV</text>
<clipPath id="c2"><rect x="478.5" y="28.5" width="313.5" height="312.0"/></clipPath>
<text x="635.0" y="19.0" text-anchor="middle" font-size="12" font-weight="bold">Model 2 (ZeroFires): O3_MDA8 on 05/08/2021</text>
<g shape-rendering="crispEdges">
<rect x="486.00" y="36.00" width="32.22" height="8.03" fill="#007fa0"/>
<rect x="518.22" y="36.00" width="8.05" height="8.03" fill="#008b8e"/>
<rect x="526.27" y="36.00" width="24.16" height="8.03" fill="#007fa0"/>
<rect x="550.43" y="36.00" width="56.38" height="8.03" fill="#008b8e"/>
<rect x="606.81" y="36.00" width="16.11" height="8.03" fill="#009185"/>
<rect x="622.92" y="36.00" width="16.11" height="8.03" fill="#00987c"/>
<rect x="639.03" y="36.00" width="8.05" height="8.03" fill="#009e73"/>
<rect x="647.08" y="36.00" width="16.11" height="8.03" fill="#22a86c"/>
<rect x="663.19" y="36.00" width="8.05" height="8.03" fill="#67bc5e"/>
<rect x="671.24" y="36.00" width="24.16" height="8.03" fill="#22a86c"/>
<rect x="695.41" y="36.00" width="8.05" height="8.03" fill="#00987c"/>
<rect x="703.46" y="36.00" width="8.05" height="8.03" fill="#008597"/>
<rect x="711.51" y="36.00" width="8.05" height="8.03" fill="#007fa0"/>
<rect x="719.57" y="36.00" width="24.16" height="8.03" fill="#008b8e"/>
<rect x="743.73" y="36.00" width="8.05" height="8.03" fill="#008597"/>
<rect x="751.78" y="36.00" width="16.11" height="8.03" fill="#0078a9"/>
<rect x="767.89" y="36.00" width="16.11" height="8.03" fill="#0072b2"/>
<rect x="486.00" y="44.03" width="32.22" height="8.03" fill="#007fa0"/>
<rect x="518.22" y="44.03" width="56.38" height="8.03" fill="#008b8e"/>
<rect x="574.59" y="44.03" width="16.11" height="8.03" fill="#008597"/>
<rect x="590.70" y="44.03" width="24.16" height="8.03" fill="#008b8e"/>
<rect x="614.86" y="44.03" width="16.11" height="8.03" fill="#009185"/>
<rect x="630.97" y="44.03" width="8.05" height="8.03" fill="#00987c"/>
<rect x="639.03" y="44.03" width="16.11" height="8.03" fill="#009e73"/>
<rect x="655.14" y="44.03" width="48.32" height="8.03" fill="#45b265"/>
<rect x="703.46" y="44.03" width="8.05" height="8.03" fill="#009e73"/>
<rect x="711.51" y="44.03" width="8.05" height="8.03" fill="#00987c"/>
<rect x="719.57" y="44.03" width="24.16" height="8.03" fill="#008b8e"/>
<rect x="743.73" y="44.03" width="8.05" height="8.03" fill="#008597"/>
<rect x="751.78" y="44.03" width="32.22" height="8.03" fill="#0078a9"/>
<rect x="486.00" y="52.05" width="8.05" height="8.03" fill="#008b8e"/>
<rect x="494.05" y="52.05" width="16.11" height="8.03" fill="#007fa0"/>
<rect x="510.16" y="52.05" width="48.32" height="8.03" fill="#008b8e"/>
<rect x="558.49" y="52.05" width="32.22" height="8.03" fill="#008597"/>
<rect x="590.70" y="52.05" width="16.11" height="8.03" fill="#008b8e"/>
<rect x="606.81" y="52.05" width="32.22" height="8.03" fill="#009185"/>
<rect x="639.03" y="52.05" width="16.11" height="8.03" fill="#009e73"/>
<rect x="655.14" y="52.05" width="40.27" height="8.03" fill="#22a86c"/>
<rect x="695.41" y="52.05" width="16.11" height="8.03" fill="#45b265"/>
<rect x="711.51" y="52.05" width="16.11" height="8.03" fill="#009e73"/>
<rect x="727.62" y="52.05" width="8.05" height="8.03" fill="#009185"/>
<rect x="735.68" y="52.05" width="8.05" height="8.03" fill="#008b8e"/>
<rect x="743.73" y="52.05" width="8.05" height="8.03" fill="#008597"/>
<rect x="751.78" y="52.05" width="16.11" height="8.03" fill="#007fa0"/>
<rect x="767.89" y="52.05" width="16.11" height="8.03" fill="#0078a9"/>
<rect x="486.00" y="60.08" width="16.11" height="8.03" fill="#008b8e"/>
<rect x="502.11" y="60.08" width="24.16" height="8.03" fill="#008597"/>
<rect x="526.27" y="60.08" width="16.11" height="8.03" fill="#008b8e"/>
<rect x="542.38" y="60.08" width="32.22" height="8.03" fill="#008597"/>
<rect x="574.59" y="60.08" width="16.11" height="8.03" fill="#008b8e"/>
<rect x="590.70" y="60.08" width="8.05" height="8.03" fill="#008597"/>
<rect x="598.76" y="60.08" width="8.05" height="8.03" fill="#008b8e"/>
<rect x="606.81" y="60.08" width="16.11" height="8.03" fill="#009185"/>
<rect x="622.92" y="60.08" width="16.11" height="8.03" fill="#00987c"/>
<rect x="639.03" y="60.08" width="24.16" height="8.03" fill="#009e73"/>
<rect x="663.19" y="60.08" width="24.16" height="8.03" fill="#22a86c"/>
<rect x="687.35" y="60.08" width="16.11" height="8.03" fill="#009e73"/>
<rect x="703.46" y="60.08" width="16.11" height="8.03" fill="#45b265"/>
<rect x="719.57" y="60.08" width="16.11" height="8.03" fill="#009e73"/>
<rect x="735.68" y="60.08" width="8.05" height="8.03" fill="#00987c"/>
<rect x="743.73" y="60.08" width="8.05" height="8.03" fill="#009185"/>
<rect x="751.78" y="60.08" width="8.05" height="8.03" fill="#008597"/>
<rect x="759.84" y="60.08" width="24.16" height="8.03" fill="#007fa0"/>
<rect x="486.00" y="68.11" width="16.11" height="8.03" fill="#008b8e"/>
<rect x="502.11" y="68.11" width="24.16" height="8.03" fill="#008597"/>
<rect x="526.27" y="68.11" width="32.22" height="8.03" fill="#008b8e"/>
<rect x="558.49" y="68.11" width="32.22" height="8.03" fill="#008597"/>
<rect x="590.70" y="68.11" width="16.11" height="8.03" fill="#008b8e"/>
<rect x="606.81" y="68.11" width="8.05" height="8.03" fill="#009185"/>
<rect x="614.86" y="68.11" width="24.16" height="8.03" fill="#00987c"/>
<rect x="639.03" y="68.11" width="16.11" height="8.03" fill="#009e73"/>
<rect x="655.14" y="68.11" width="32.22" height="8.03" fill="#22a86c"/>
<rect x="687.35" y="68.11" width="16.11" height="8.03" fill="#009e73"/>
<rect x="703.46" y="68.11" width="16.11" height="8.03" fill="#22a86c"/>
<rect x="719.57" y="68.11" width="16.11" height="8.03" fill="#009e73"/>
<rect x="735.68" y="68.11" width="16.11" height="8.03" fill="#00987c"/>
<rect x="751.78" y="68.11" width="8.05" height="8.03" fill="#008b8e"/>
<rect x="759.84" y="68.11" width="16.11" height="8.03" fill="#008597"/>
<rect x="775.95" y="68.11" width="8.05" height="8.03" fill="#007fa0"/>
<rect x="486.00" y="76.14" width="8.05" height="8.03" fill="#008597"/>
<rect x="494.05" y="76.14" width="80.54" height="8.03" fill="#008b8e"/>
<rect x="574.59" y="76.14" width="8.05" height="8.03" fill="#008597"/>
<rect x="582.65" y="76.14" width="8.05" height="8.03" fill="#008b8e"/>
<rect x="590.70" y="76.14" width="24.16" height="8.03" fill="#009185"/>
<rect x="614.86" y="76.14" width="32.22" height="8.03" fill="#00987c"/>
<rect x="647.08" y="76.14" width="56.38" height="8.03" fill="#009e73"/>
<rect x="703.46" y="76.14" width="40.27" height="8.03" fill="#22a86c"/>
<rect x="743.73" y="76.14" width="8.05" height="8.03" fill="#009e73"/>
<rect x="751.78" y="76.14" width="8.05" height="8.03" fill="#009185"/>
<rect x="759.84" y="76.14" width="8.05" height="8.03" fill="#008b8e"/>
<rect x="767.89" y="76.14" width="16.11" height="8.03" fill="#008597"/>
<rect x="486.00" y="84.16" width="104.70" height="8.03" fill="#008b8e"/>
<rect x="590.70" y="84.16" width="16.11" height="8.03" fill="#009185"/>
<rect x="606.81" y="84.16" width="32.22" height="8.03" fill="#00987c"/>
<rect x="639.03" y="84.16" width="40.27" height="8.03" fill="#009e73"/>
<rect x="679.30" y="84.16" width="8.05" height="8.03" fill="#009185"/>
<rect x="687.35" y="84.16" width="16.11" height="8.03" fill="#00987c"/>
<rect x="703.46" y="84.16" width="8.05" height="8.03" fill="#22a86c"/>
<rect x="711.51" y="84.16" width="8.05" height="8.03" fill="#009e73"/>
<rect x="719.57" y="84.16" width="24.16" height="8.03" fill="#22a86c"/>
<rect x="743.73" y="84.16" width="8.05" height="8.03" fill="#009e73"/>
<rect x="751.78" y="84.16" width="8.05" height="8.03" fill="#00987c"/>
<rect x="759.84" y="84.16" width="8.05" height="8.03" fill="#009185"/>
<rect x="767.89" y="84.16" width="16.11" height="8.03" fill="#008b8e"/>
<rect x="486.00" y="92.19" width="24.16" height="8.03" fill="#008b8e"/>
<rect x="510.16" y="92.19" width="24.16" height="8.03" fill="#009185"/>
<rect x="534.32" y="92.19" width="16.11" height="8.03" fill="#008b8e"/>
<rect x="550.43" y="92.19" width="16.11" height="8.03" fill="#008597"/>
<rect x="566.54" y="92.19" width="24.16" height="8.03" fill="#008b8e"/>
<rect x="590.70" y="92.19" width="16.11" height="8.03" fill="#009185"/>
<rect x="606.81" y="92.19" width="24.16" height="8.03" fill="#00987c"/>
<rect x="630.97" y="92.19" width="8.05" height="8.03" fill="#009e73"/>
<rect x="639.03" y="92.19" width="24.16" height="8.03" fill="#22a86c"/>
<rect x="663.19" y="92.19" width="24.16" height="8.03" fill="#009e73"/>
<rect x="687.35" y="92.19" width="16.11" height="8.03" fill="#00987c"/>
<rect x="703.46" y="92.19" width="16.11" height="8.03" fill="#009e73"/>
<rect x="719.57" y="92.19" width="8.05" height="8.03" fill="#00987c"/>
<rect x="727.62" y="92.19" width="24.16" height="8.03" fill="#22a86c"/>
<rect x="751.78" y="92.19" width="16.11" height="8.03" fill="#009e73"/>
<rect x="767.89" y="92.19" width="8.05" height="8.03" fill="#009185"/>
<rect x="775.95" y="92.19" width="8.05" height="8.03" fill="#008b8e"/>
<rect x="486.00" y="100.22" width="24.16" height="8.03" fill="#008b8e"/>
<rect x="510.16" y="100.22" width="24.16" height="8.03" fill="#009185"/>
<rect x="534.32" y="100.22" width="8.05" height="8.03" fill="#008b8e"/>
<rect x="542.38" y="100.22" width="8.05" height="8.03" fill="#008597"/>
<rect x="550.43" y="100.22" width="40.27" height="8.03" fill="#008b8e"/>
<rect x="590.70" y="100.22" width="8.05" height="8.03" fill="#009185"/>
<rect x="598.76" y="100.22" width="16.11" height="8.03" fill="#00987c"/>
<rect x="614.86" y="100.22" width="8.05" height="8.03" fill="#009e73"/>
<rect x="622.92" y="100.22" width="8.05" height="8.03" fill="#00987c"/>
<rect x="630.97" y="100.22" width="8.05" height="8.03" fill="#009e73"/>
<rect x="639.03" y="100.22" width="32.22" height="8.03" fill="#22a86c"/>
<rect x="671.24" y="100.22" width="8.05" height="8.03" fill="#45b265"/>
<rect x="679.30" y="100.22" width="24.16" height="8.03" fill="#22a86c"/>
<rect x="703.46" y="100.22" width="8.05" height="8.03" fill="#009e73"/>
<rect x="711.51" y="100.22" width="24.16" height="8.03" fill="#00987c"/>
<rect x="735.68" y="100.22" width="16.11" height="8.03" fill="#22a86c"/>
<rect x="751.78" y="100.22" width="16.11" height="8.03" fill="#009e73"/>
<rect x="767.89" y="100.22" width="8.05" height="8.03" fill="#009185"/>
<rect x="775.95" y="100.22" width="8.05" height="8.03" fill="#008b8e"/>
<rect x="486.00" y="108.24" width="24.16" height="8.03" fill="#008b8e"/>
<rect x="510.16" y="108.24" width="24.16" height="8.03" fill="#009185"/>
<rect x="534.32" y="108.24" width="8.05" height="8.03" fill="#008597"/>
<rect x="542.38" y="108.24" width="8.05" height="8.03" fill="#007fa0"/>
<rect x="550.43" y="108.24" width="8.05" height="8.03" fill="#008597"/>
<rect x="558.49" y="108.24" width="16.11" height="8.03" fill="#008b8e"/>
<rect x="574.59" y="108.24" width="32.22" height="8.03" fill="#009185"/>
<rect x="606.81" y="108.24" width="16.11" height="8.03" fill="#00987c"/>
<rect x="622.92" y="108.24" width="24.16" height="8.03" fill="#22a86c"/>
<rect x="647.08" y="108.24" width="72.49" height="8.03" fill="#45b265"/>
<rect x="719.57" y="108.24" width="8.05" height="8.03" fill="#00987c"/>
<rect x="727.62" y="108.24" width="24.16" height="8.03" fill="#22a86c"/>
<rect x="751.78" y="108.24" width="24.16" height="8.03" fill="#009e73"/>
<rect x="775.95" y="108.24" width="8.05" height="8.03" fill="#009185"/>
<rect x="486.00" y="116.27" width="16.11" height="8.03" fill="#008b8e"/>
<rect x="502.11" y="116.27" width="32.22" height="8.03" fill="#009185"/>
<rect x="534.32" y="116.27" width="8.05" height="8.03" fill="#008b8e"/>
<rect x="542.38" y="116.27" width="8.05" height="8.03" fill="#007fa0"/>
<rect x="550.43" y="116.27" width="8.05" height="8.03" fill="#008597"/>
<rect x="558.49" y="116.27" width="16.11" height="8.03" fill="#008b8e"/>
<rect x="574.59" y="116.27" width="32.22" height="8.03" fill="#009185"/>
<rect x="606.81" y="116.27" width="8.05" height="8.03" fill="#00987c"/>
<rect x="614.86" y="116.27" width="8.05" height="8.03" fill="#009e73"/>
<rect x="622.92" y="116.27" width="32.22" height="8.03" fill="#22a86c"/>
<rect x="655.14" y="116.27" width="40.27" height="8.03" fill="#45b265"/>
<rect x="695.41" y="116.27" width="16.11" height="8.03" fill="#67bc5e"/>
<rect x="711.51" y="116.27" width="16.11" height="8.03" fill="#45b265"/>
<rect x="727.62" y="116.27" width="24.16" height="8.03" fill="#22a86c"/>
<rect x="751.78" y="116.27" width="24.16" height="8.03" fill="#009e73"/>
<rect x="775.95" y="116.27" width="8.05" height="8.03" fill="#009185"/>
<rect x="486.00" y="124.30" width="16.11" height="8.03" fill="#008b8e"/>
<rect x="502.11" y="124.30" width="32.22" height="8.03" fill="#009185"/>
<rect x="534.32" y="124.30" width="8.05" height="8.03" fill="#008b8e"/>
<rect x="542.38" y="124.30" width="8.05" height="8.03" fill="#008597"/>
<rect x="550.43" y="124.30" width="24.16" height="8.03" fill="#008b8e"/>
<rect x="574.59" y="124.30" width="8.05" height="8.03" fill="#009185"/>
<rect x="582.65" y="124.30" width="40.27" height="8.03" fill="#00987c"/>
<rect x="622.92" y="124.30" width="40.27" height="8.03" fill="#22a86c"/>
<rect x="663.19" y="124.30" width="40.27" height="8.03" fill="#45b265"/>
<rect x="703.46" y="124.30" width="8.05" height="8.03" fill="#67bc5e"/>
<rect x="711.51" y="124.30" width="16.11" height="8.03" fill="#45b265"/>
<rect x="727.62" y="124.30" width="24.16" height="8.03" fill="#22a86c"/>
<rect x="751.78" y="124.30" width="24.16" height="8.03" fill="#009e73"/>
<rect x="775.95" y="124.30" width="8.05" height="8.03" fill="#009185"/>
<rect x="486.00" y="132.32" width="8.05" height="8.03" fill="#008597"/>
<rect x="494.05" y="132.32" width="8.05" height="8.03" fill="#008b8e"/>
<rect x="502.11" y="132.32" width="32.22" height="8.03" fill="#009185"/>
<rect x="534.32" y="132.32" width="40.27" height="8.03" fill="#008b8e"/>
<rect x="574.59" y="132.32" width="48.32" height="8.03" fill="#00987c"/>
<rect x="622.92" y="132.32" width="48.32" height="8.03" fill="#22a86c"/>
<rect x="671.24" y="132.32" width="32.22" height="8.03" fill="#45b265"/>
<rect x="703.46" y="132.32" width="8.05" height="8.03" fill="#67bc5e"/>
<rect x="711.51" y="132.32" width="16.11" height="8.03" fill="#45b265"/>
<rect x="727.62" y="132.32" width="24.16" height="8.03" fill="#22a86c"/>
<rect x="751.78" y="132.32" width="24.16" height="8.03" fill="#009e73"/>
<rect x="775.95" y="132.32" width="8.05" height="8.03" fill="#009185"/>
<rect x="486.00" y="140.35" width="8.05" height="8.03" fill="#008597"/>
<rect x="494.05" y="140.35" width="8.05" height="8.03" fill="#008b8e"/>
<rect x="502.11" y="140.35" width="40.27" height="8.03" fill="#009185"/>
<rect x="542.38" y="140.35" width="8.05" height="8.03" fill="#008b8e"/>
<rect x="550.43" y="140.35" width="8.05" height="8.03" fill="#008597"/>
<rect x="558.49" y="140.35" width="8.05" height="8.03" fill="#008b8e"/>
<rect x="566.54" y="140.35" width="8.05" height="8.03" fill="#009185"/>
<rect x="574.59" y="140.35" width="8.05" height="8.03" fill="#00987c"/>
<rect x="582.65" y="140.35" width="8.05" height="8.03" fill="#009e73"/>
<rect x="590.70" y="140.35" width="8.05" height="8.03" fill="#22a86c"/>
<rect x="598.76" y="140.35" width="32.22" height="8.03" fill="#009e73"/>
<rect x="630.97" y="140.35" width="56.38" height="8.03" fill="#22a86c"/>
<rect x="687.35" y="140.35" width="32.22" height="8.03" fill="#45b265"/>
<rect x="719.57" y="140.35" width="40.27" height="8.03" fill="#22a86c"/>
<rect x="759.84" y="140.35" width="16.11" height="8.03" fill="#009e73"/>
<rect x="775.95" y="140.35" width="8.05" height="8.03" fill="#009185"/>
<rect x="486.00" y="148.38" width="8.05" height="8.03" fill="#008597"/>
<rect x="494.05" y="148.38" width="8.05" height="8.03" fill="#008b8e"/>
<rect x="502.11" y="148.38" width="40.27" height="8.03" fill="#009185"/>
<rect x="542.38" y="148.38" width="16.11" height="8.03" fill="#008b8e"/>
<rect x="558.49" y="148.38" width="24.16" height="8.03" fill="#00987c"/>
<rect x="582.65" y="148.38" width="8.05" height="8.03" fill="#009e73"/>
<rect x="590.70" y="148.38" width="8.05" height="8.03" fill="#22a86c"/>
<rect x="598.76" y="148.38" width="32.22" height="8.03" fill="#009e73"/>
<rect x="630.97" y="148.38" width="32.22" height="8.03" fill="#22a86c"/>
<rect x="663.19" y="148.38" width="48.32" height="8.03" fill="#45b265"/>
<rect x="711.51" y="148.38" width="48.32" height="8.03" fill="#22a86c"/>
<rect x="759.84" y="148.38" width="16.11" height="8.03" fill="#009e73"/>
<rect x="775.95" y="148.38" width="8.05" height="8.03" fill="#009185"/>
<rect x="486.00" y="156.41" width="8.05" height="8.03" fill="#008597"/>
<rect x="494.05" y="156.41" width="8.05" height="8.03" fill="#008b8e"/>
<rect x="502.11" y="156.41" width="56.38" height="8.03" fill="#009185"/>
<rect x="558.49" y="156.41" width="40.27" height="8.03" fill="#22a86c"/>
<rect x="598.76" y="156.41" width="16.11" height="8.03" fill="#009e73"/>
<rect x="614.86" y="156.41" width="16.11" height="8.03" fill="#22a86c"/>
<rect x="630.97" y="156.41" width="16.11" height="8.03" fill="#00987c"/>
<rect x="647.08" y="156.41" width="24.16" height="8.03" fill="#22a86c"/>
<rect x="671.24" y="156.41" width="32.22" height="8.03" fill="#45b265"/>
<rect x="703.46" y="156.41" width="8.05" height="8.03" fill="#009e73"/>
<rect x="711.51" y="156.41" width="8.05" height="8.03" fill="#45b265"/>
<rect x="719.57" y="156.41" width="16.11" height="8.03" fill="#22a86c"/>
<rect x="735.68" y="156.41" width="40.27" height="8.03" fill="#009e73"/>
<rect x="775.95" y="156.41" width="8.05" height="8.03" fill="#009185"/>
<rect x="486.00" y="164.43" width="24.16" height="8.03" fill="#008b8e"/>
<rect x="510.16" y="164.43" width="48.32" height="8.03" fill="#009185"/>
<rect x="558.49" y="164.43" width="32.22" height="8.03" fill="#009e73"/>
<rect x="590.70" y="164.43" width="16.11" height="8.03" fill="#22a86c"/>
<rect x="606.81" y="164.43" width="16.11" height="8.03" fill="#00987c"/>
<rect x="622.92" y="164.43" width="48.32" height="8.03" fill="#22a86c"/>
<rect x="671.24" y="164.43" width="56.38" height="8.03" fill="#45b265"/>
<rect x="727.62" y="164.43" width="8.05" height="8.03" fill="#22a86c"/>
<rect x="735.68" y="164.43" width="40.27" height="8.03" fill="#009e73"/>
<rect x="775.95" y="164.43" width="8.05" height="8.03" fill="#009185"/>
<rect x="486.00" y="172.46" width="8.05" height="8.03" fill="#009185"/>
<rect x="494.05" y="172.46" width="16.11" height="8.03" fill="#008b8e"/>
<rect x="510.16" y="172.46" width="8.05" height="8.03" fill="#00987c"/>
<rect x="518.22" y="172.46" width="24.16" height="8.03" fill="#009185"/>
<rect x="542.38" y="172.46" width="24.16" height="8.03" fill="#00987c"/>
<rect x="566.54" y="172.46" width="24.16" height="8.03" fill="#009e73"/>
<rect x="590.70" y="172.46" width="16.11" height="8.03" fill="#45b265"/>
<rect x="606.81" y="172.46" width="72.49" height="8.03" fill="#22a86c"/>
<rect x="679.30" y="172.46" width="48.32" height="8.03" fill="#67bc5e"/>
<rect x="727.62" y="172.46" width="8.05" height="8.03" fill="#45b265"/>
<rect x="735.68" y="172.46" width="16.11" height="8.03" fill="#22a86c"/>
<rect x="751.78" y="172.46" width="8.05" height="8.03" fill="#009e73"/>
<rect x="759.84" y="172.46" width="16.11" height="8.03" fill="#00987c"/>
<rect x="775.95" y="172.46" width="8.05" height="8.03" fill="#009185"/>
<rect x="486.00" y="180.49" width="16.11" height="8.03" fill="#008b8e"/>
<rect x="502.11" y="180.49" width="8.05" height="8.03" fill="#009185"/>
<rect x="510.16" y="180.49" width="8.05" height="8.03" fill="#00987c"/>
<rect x="518.22" y="180.49" width="16.11" height="8.03" fill="#009185"/>
<rect x="534.32" y="180.49" width="16.11" height="8.03" fill="#00987c"/>
<rect x="550.43" y="180.49" width="32.22" height="8.03" fill="#22a86c"/>
<rect x="582.65" y="180.49" width="96.65" height="8.03" fill="#45b265"/>
<rect x="679.30" y="180.49" width="48.32" height="8.03" fill="#67bc5e"/>
<rect x="727.62" y="180.49" width="16.11" height="8.03" fill="#45b265"/>
<rect x="743.73" y="180.49" width="8.05" height="8.03" fill="#22a86c"/>
<rect x="751.78" y="180.49" width="8.05" height="8.03" fill="#009e73"/>
<rect x="759.84" y="180.49" width="16.11" height="8.03" fill="#00987c"/>
<rect x="775.95" y="180.49" width="8.05" height="8.03" fill="#009185"/>
<rect x="486.00" y="188.51" width="8.05" height="8.03" fill="#008597"/>
<rect x="494.05" y="188.51" width="8.05" height="8.03" fill="#008b8e"/>
<rect x="502.11" y="188.51" width="16.11" height="8.03" fill="#00987c"/>
<rect x="518.22" y="188.51" width="24.16" height="8.03" fill="#009e73"/>
<rect x="542.38" y="188.51" width="8.05" height="8.03" fill="#22a86c"/>
<rect x="550.43" y="188.51" width="88.59" height="8.03" fill="#45b265"/>
<rect x="639.03" y="188.51" width="24.16" height="8.03" fill="#22a86c"/>
<rect x="663.19" y="188.51" width="56.38" height="8.03" fill="#45b265"/>
<rect x="719.57" y="188.51" width="32.22" height="8.03" fill="#22a86c"/>
<rect x="751.78" y="188.51" width="8.05" height="8.03" fill="#009e73"/>
<rect x="759.84" y="188.51" width="8.05" height="8.03" fill="#00987c"/>
<rect x="767.89" y="188.51" width="16.11" height="8.03" fill="#009185"/>
<rect x="486.00" y="196.54" width="8.05" height="8.03" fill="#008597"/>
<rect x="494.05" y="196.54" width="8.05" height="8.03" fill="#009185"/>
<rect x="502.11" y="196.54" width="32.22" height="8.03" fill="#009e73"/>
<rect x="534.32" y="196.54" width="8.05" height="8.03" fill="#00987c"/>
<rect x="542.38" y="196.54" width="24.16" height="8.03" fill="#45b265"/>
<rect x="566.54" y="196.54" width="16.11" height="8.03" fill="#67bc5e"/>
<rect x="582.65" y="196.54" width="56.38" height="8.03" fill="#45b265"/>
<rect x="639.03" y="196.54" width="64.43" height="8.03" fill="#22a86c"/>
<rect x="703.46" y="196.54" width="16.11" height="8.03" fill="#45b265"/>
<rect x="719.57" y="196.54" width="8.05" height="8.03" fill="#22a86c"/>
<rect x="727.62" y="196.54" width="24.16" height="8.03" fill="#009e73"/>
<rect x="751.78" y="196.54" width="16.11" height="8.03" fill="#00987c"/>
<rect x="767.89" y="196.54" width="16.11" height="8.03" fill="#009185"/>
<rect x="486.00" y="204.57" width="8.05" height="8.03" fill="#008b8e"/>
<rect x="494.05" y="204.57" width="16.11" height="8.03" fill="#009e73"/>
<rect x="510.16" y="204.57" width="24.16" height="8.03" fill="#22a86c"/>
<rect x="534.32" y="204.57" width="40.27" height="8.03" fill="#45b265"/>
<rect x="574.59" y="204.57" width="32.22" height="8.03" fill="#67bc5e"/>
<rect x="606.81" y="204.57" width="48.32" height="8.03" fill="#45b265"/>
<rect x="655.14" y="204.57" width="64.43" height="8.03" fill="#22a86c"/>
<rect x="719.57" y="204.57" width="24.16" height="8.03" fill="#009e73"/>
<rect x="743.73" y="204.57" width="24.16" height="8.03" fill="#00987c"/>
<rect x="767.89" y="204.57" width="16.11" height="8.03" fill="#009185"/>
<rect x="486.00" y="212.59" width="8.05" height="8.03" fill="#008b8e"/>
<rect x="494.05" y="212.59" width="24.16" height="8.03" fill="#22a86c"/>
<rect x="518.22" y="212.59" width="72.49" height="8.03" fill="#45b265"/>
<rect x="590.70" y="212.59" width="24.16" height="8.03" fill="#67bc5e"/>
<rect x="614.86" y="212.59" width="56.38" height="8.03" fill="#45b265"/>
<rect x="671.24" y="212.59" width="56.38" height="8.03" fill="#22a86c"/>
<rect x="727.62" y="212.59" width="24.16" height="8.03" fill="#009e73"/>
<rect x="751.78" y="212.59" width="16.11" height="8.03" fill="#00987c"/>
<rect x="767.89" y="212.59" width="16.11" height="8.03" fill="#009185"/>
<rect x="486.00" y="220.62" width="8.05" height="8.03" fill="#009185"/>
<rect x="494.05" y="220.62" width="8.05" height="8.03" fill="#22a86c"/>
<rect x="502.11" y="220.62" width="8.05" height="8.03" fill="#45b265"/>
<rect x="510.16" y="220.62" width="8.05" height="8.03" fill="#67bc5e"/>
<rect x="518.22" y="220.62" width="24.16" height="8.03" fill="#45b265"/>
<rect x="542.38" y="220.62" width="32.22" height="8.03" fill="#009e73"/>
<rect x="574.59" y="220.62" width="32.22" height="8.03" fill="#45b265"/>
<rect x="606.81" y="220.62" width="24.16" height="8.03" fill="#67bc5e"/>
<rect x="630.97" y="220.62" width="80.54" height="8.03" fill="#45b265"/>
<rect x="711.51" y="220.62" width="32.22" height="8.03" fill="#22a86c"/>
<rect x="743.73" y="220.62" width="16.11" height="8.03" fill="#009e73"/>
<rect x="759.84" y="220.62" width="16.11" height="8.03" fill="#00987c"/>
<rect x="775.95" y="220.62" width="8.05" height="8.03" fill="#009185"/>
<rect x="486.00" y="228.65" width="8.05" height="8.03" fill="#009185"/>
<rect x="494.05" y="228.65" width="8.05" height="8.03" fill="#22a86c"/>
<rect x="502.11" y="228.65" width="8.05" height="8.03" fill="#67bc5e"/>
<rect x="510.16" y="228.65" width="24.16" height="8.03" fill="#45b265"/>
<rect x="534.32" y="228.65" width="16.11" height="8.03" fill="#009e73"/>
<rect x="550.43" y="228.65" width="16.11" height="8.03" fill="#00987c"/>
<rect x="566.54" y="228.65" width="16.11" height="8.03" fill="#009e73"/>
<rect x="582.65" y="228.65" width="24.16" height="8.03" fill="#45b265"/>
<rect x="606.81" y="228.65" width="32.22" height="8.03" fill="#67bc5e"/>
<rect x="639.03" y="228.65" width="56.38" height="8.03" fill="#45b265"/>
<rect x="695.41" y="228.65" width="40.27" height="8.03" fill="#22a86c"/>
<rect x="735.68" y="228.65" width="24.16" height="8.03" fill="#009e73"/>
<rect x="759.84" y="228.65" width="16.11" height="8.03" fill="#00987c"/>
<rect x="775.95" y="228.65" width="8.05" height="8.03" fill="#008b8e"/>
<rect x="486.00" y="236.68" width="16.11" height="8.03" fill="#22a86c"/>
<rect x="502.11" y="236.68" width="24.16" height="8.03" fill="#67bc5e"/>
<rect x="526.27" y="236.68" width="8.05" height="8.03" fill="#45b265"/>
<rect x="534.32" y="236.68" width="8.05" height="8.03" fill="#009e73"/>
<rect x="542.38" y="236.68" width="16.11" height="8.03" fill="#00987c"/>
<rect x="558.49" y="236.68" width="24.16" height="8.03" fill="#009e73"/>
<rect x="582.65" y="236.68" width="32.22" height="8.03" fill="#45b265"/>
<rect x="614.86" y="236.68" width="40.27" height="8.03" fill="#67bc5e"/>
<rect x="655.14" y="236.68" width="24.16" height="8.03" fill="#45b265"/>
<rect x="679.30" y="236.68" width="40.27" height="8.03" fill="#22a86c"/>
<rect x="719.57" y="236.68" width="24.16" height="8.03" fill="#009e73"/>
<rect x="743.73" y="236.68" width="16.11" height="8.03" fill="#00987c"/>
<rect x="759.84" y="236.68" width="16.11" height="8.03" fill="#009185"/>
<rect x="775.95" y="236.68" width="8.05" height="8.03" fill="#008b8e"/>
<rect x="486.00" y="244.70" width="8.05" height="8.03" fill="#009e73"/>
<rect x="494.05" y="244.70" width="8.05" height="8.03" fill="#22a86c"/>
<rect x="502.11" y="244.70" width="16.11" height="8.03" fill="#45b265"/>
<rect x="518.22" y="244.70" width="8.05" height="8.03" fill="#009e73"/>
<rect x="526.27" y="244.70" width="16.11" height="8.03" fill="#00987c"/>
<rect x="542.38" y="244.70" width="16.11" height="8.03" fill="#009185"/>
<rect x="558.49" y="244.70" width="8.05" height="8.03" fill="#22a86c"/>
<rect x="566.54" y="244.70" width="56.38" height="8.03" fill="#45b265"/>
<rect x="622.92" y="244.70" width="24.16" height="8.03" fill="#67bc5e"/>
<rect x="647.08" y="244.70" width="24.16" height="8.03" fill="#45b265"/>
<rect x="671.24" y="244.70" width="16.11" height="8.03" fill="#22a86c"/>
<rect x="687.35" y="244.70" width="8.05" height="8.03" fill="#009e73"/>
<rect x="695.41" y="244.70" width="48.32" height="8.03" fill="#00987c"/>
<rect x="743.73" y="244.70" width="24.16" height="8.03" fill="#009185"/>
<rect x="767.89" y="244.70" width="16.11" height="8.03" fill="#008597"/>
<rect x="486.00" y="252.73" width="24.16" height="8.03" fill="#67bc5e"/>
<rect x="510.16" y="252.73" width="8.05" height="8.03" fill="#45b265"/>
<rect x="518.22" y="252.73" width="16.11" height="8.03" fill="#00987c"/>
<rect x="534.32" y="252.73" width="24.16" height="8.03" fill="#009185"/>
<rect x="558.49" y="252.73" width="8.05" height="8.03" fill="#00987c"/>
<rect x="566.54" y="252.73" width="8.05" height="8.03" fill="#009e73"/>
<rect x="574.59" y="252.73" width="32.22" height="8.03" fill="#45b265"/>
<rect x="606.81" y="252.73" width="8.05" height="8.03" fill="#009e73"/>
<rect x="614.86" y="252.73" width="56.38" height="8.03" fill="#45b265"/>
<rect x="671.24" y="252.73" width="8.05" height="8.03" fill="#22a86c"/>
<rect x="679.30" y="252.73" width="16.11" height="8.03" fill="#009e73"/>
<rect x="695.41" y="252.73" width="8.05" height="8.03" fill="#00987c"/>
<rect x="703.46" y="252.73" width="40.27" height="8.03" fill="#009185"/>
<rect x="743.73" y="252.73" width="24.16" height="8.03" fill="#008b8e"/>
<rect x="767.89" y="252.73" width="16.11" height="8.03" fill="#008597"/>
<rect x="486.00" y="260.76" width="16.11" height="8.03" fill="#abd050"/>
<rect x="502.11" y="260.76" width="8.05" height="8.03" fill="#67bc5e"/>
<rect x="510.16" y="260.76" width="8.05" height="8.03" fill="#009e73"/>
<rect x="518.22" y="260.76" width="48.32" height="8.03" fill="#009185"/>
<rect x="566.54" y="260.76" width="16.11" height="8.03" fill="#00987c"/>
<rect x="582.65" y="260.76" width="24.16" height="8.03" fill="#009e73"/>
<rect x="606.81" y="260.76" width="16.11" height="8.03" fill="#22a86c"/>
<rect x="622.92" y="260.76" width="48.32" height="8.03" fill="#45b265"/>
<rect x="671.24" y="260.76" width="24.16" height="8.03" fill="#009e73"/>
<rect x="695.41" y="260.76" width="24.16" height="8.03" fill="#009185"/>
<rect x="719.57" y="260.76" width="24.16" height="8.03" fill="#008b8e"/>
<rect x="743.73" y="260.76" width="8.05" height="8.03" fill="#008597"/>
<rect x="751.78" y="260.76" width="32.22" height="8.03" fill="#008b8e"/>
<rect x="486.00" y="268.78" width="8.05" height="8.03" fill="#22a86c"/>
<rect x="494.05" y="268.78" width="8.05" height="8.03" fill="#00987c"/>
<rect x="502.11" y="268.78" width="40.27" height="8.03" fill="#008b8e"/>
<rect x="542.38" y="268.78" width="24.16" height="8.03" fill="#009185"/>
<rect x="566.54" y="268.78" width="16.11" height="8.03" fill="#00987c"/>
<rect x="582.65" y="268.78" width="8.05" height="8.03" fill="#009e73"/>
<rect x="590.70" y="268.78" width="16.11" height="8.03" fill="#22a86c"/>
<rect x="606.81" y="268.78" width="8.05" height="8.03" fill="#00987c"/>
<rect x="614.86" y="268.78" width="32.22" height="8.03" fill="#22a86c"/>
<rect x="647.08" y="268.78" width="8.05" height="8.03" fill="#45b265"/>
<rect x="655.14" y="268.78" width="24.16" height="8.03" fill="#22a86c"/>
<rect x="679.30" y="268.78" width="16.11" height="8.03" fill="#009e73"/>
<rect x="695.41" y="268.78" width="16.11" height="8.03" fill="#00987c"/>
<rect x="711.51" y="268.78" width="8.05" height="8.03" fill="#009185"/>
<rect x="719.57" y="268.78" width="48.32" height="8.03" fill="#008b8e"/>
<rect x="767.89" y="268.78" width="16.11" height="8.03" fill="#008597"/>
<rect x="486.00" y="276.81" width="8.05" height="8.03" fill="#00987c"/>
<rect x="494.05" y="276.81" width="24.16" height="8.03" fill="#008597"/>
<rect x="518.22" y="276.81" width="32.22" height="8.03" fill="#008b8e"/>
<rect x="550.43" y="276.81" width="16.11" height="8.03" fill="#009185"/>
<rect x="566.54" y="276.81" width="16.11" height="8.03" fill="#00987c"/>
<rect x="582.65" y="276.81" width="80.54" height="8.03" fill="#22a86c"/>
<rect x="663.19" y="276.81" width="24.16" height="8.03" fill="#009e73"/>
<rect x="687.35" y="276.81" width="8.05" height="8.03" fill="#22a86c"/>
<rect x="695.41" y="276.81" width="16.11" height="8.03" fill="#00987c"/>
<rect x="711.51" y="276.81" width="16.11" height="8.03" fill="#009185"/>
<rect x="727.62" y="276.81" width="56.38" height="8.03" fill="#008b8e"/>
<rect x="486.00" y="284.84" width="8.05" height="8.03" fill="#009185"/>
<rect x="494.05" y="284.84" width="16.11" height="8.03" fill="#007fa0"/>
<rect x="510.16" y="284.84" width="8.05" height="8.03" fill="#0078a9"/>
<rect x="518.22" y="284.84" width="16.11" height="8.03" fill="#008597"/>
<rect x="534.32" y="284.84" width="16.11" height="8.03" fill="#008b8e"/>
<rect x="550.43" y="284.84" width="16.11" height="8.03" fill="#009185"/>
<rect x="566.54" y="284.84" width="16.11" height="8.03" fill="#00987c"/>
<rect x="582.65" y="284.84" width="16.11" height="8.03" fill="#009e73"/>
<rect x="598.76" y="284.84" width="32.22" height="8.03" fill="#22a86c"/>
<rect x="630.97" y="284.84" width="64.43" height="8.03" fill="#009e73"/>
<rect x="695.41" y="284.84" width="16.11" height="8.03" fill="#00987c"/>
<rect x="711.51" y="284.84" width="32.22" height="8.03" fill="#009185"/>
<rect x="743.73" y="284.84" width="32.22" height="8.03" fill="#008b8e"/>
<rect x="775.95" y="284.84" width="8.05" height="8.03" fill="#009185"/>
<rect x="486.00" y="292.86" width="8.05" height="8.03" fill="#008b8e"/>
<rect x="494.05" y="292.86" width="24.16" height="8.03" fill="#008597"/>
<rect x="518.22" y="292.86" width="16.11" height="8.03" fill="#007fa0"/>
<rect x="534.32" y="292.86" width="8.05" height="8.03" fill="#008597"/>
<rect x="542.38" y="292.86" width="16.11" height="8.03" fill="#008b8e"/>
<rect x="558.49" y="292.86" width="16.11" height="8.03" fill="#009185"/>
<rect x="574.59" y="292.86" width="8.05" height="8.03" fill="#00987c"/>
<rect x="582.65" y="292.86" width="24.16" height="8.03" fill="#009e73"/>
<rect x="606.81" y="292.86" width="8.05" height="8.03" fill="#22a86c"/>
<rect x="614.86" y="292.86" width="80.54" height="8.03" fill="#009e73"/>
<rect x="695.41" y="292.86" width="16.11" height="8.03" fill="#00987c"/>
<rect x="711.51" y="292.86" width="40.27" height="8.03" fill="#009185"/>
<rect x="751.78" y="292.86" width="24.16" height="8.03" fill="#008b8e"/>
<rect x="775.95" y="292.86" width="8.05" height="8.03" fill="#009185"/>
<rect x="486.00" y="300.89" width="40.27" height="8.03" fill="#008597"/>
<rect x="526.27" y="300.89" width="8.05" height="8.03" fill="#007fa0"/>
<rect x="534.32" y="300.89" width="8.05" height="8.03" fill="#008597"/>
<rect x="542.38" y="300.89" width="16.11" height="8.03" fill="#008b8e"/>
<rect x="558.49" y="300.89" width="16.11" height="8.03" fill="#009185"/>
<rect x="574.59" y="300.89" width="8.05" height="8.03" fill="#00987c"/>
<rect x="582.65" y="300.89" width="112.76" height="8.03" fill="#009e73"/>
<rect x="695.41" y="300.89" width="16.11" height="8.03" fill="#00987c"/>
<rect x="711.51" y="300.89" width="40.27" height="8.03" fill="#009185"/>
<rect x="751.78" y="300.89" width="16.11" height="8.03" fill="#008b8e"/>
<rect x="767.89" y="300.89" width="8.05" height="8.03" fill="#008597"/>
<rect x="775.95" y="300.89" width="8.05" height="8.03" fill="#009185"/>
<rect x="486.00" y="308.92" width="16.11" height="8.03" fill="#008597"/>
<rect x="502.11" y="308.92" width="16.11" height="8.03" fill="#007fa0"/>
<rect x="518.22" y="308.92" width="24.16" height="8.03" fill="#008597"/>
<rect x="542.38" y="308.92" width="24.16" height="8.03" fill="#008b8e"/>
<rect x="566.54" y="308.92" width="8.05" height="8.03" fill="#009185"/>
<rect x="574.59" y="308.92" width="8.05" height="8.03" fill="#00987c"/>
<rect x="582.65" y="308.92" width="88.59" height="8.03" fill="#009e73"/>
<rect x="671.24" y="308.92" width="40.27" height="8.03" fill="#00987c"/>
<rect x="711.51" y="308.92" width="40.27" height="8.03" fill="#009185"/>
<rect x="751.78" y="308.92" width="24.16" height="8.03" fill="#008597"/>
<rect x="775.95" y="308.92" width="8.05" height="8.03" fill="#009185"/>
<rect x="486.00" y="316.95" width="8.05" height="8.03" fill="#008b8e"/>
<rect x="494.05" y="316.95" width="8.05" height="8.03" fill="#008597"/>
<rect x="502.11" y="316.95" width="16.11" height="8.03" fill="#007fa0"/>
<rect x="518.22" y="316.95" width="24.16" height="8.03" fill="#008597"/>
<rect x="542.38" y="316.95" width="24.16" height="8.03" fill="#008b8e"/>
<rect x="566.54" y="316.95" width="8.05" height="8.03" fill="#009185"/>
<rect x="574.59" y="316.95" width="8.05" height="8.03" fill="#00987c"/>
<rect x="582.65" y="316.95" width="80.54" height="8.03" fill="#009e73"/>
<rect x="663.19" y="316.95" width="16.11" height="8.03" fill="#00987c"/>
<rect x="679.30" y="316.95" width="8.05" height="8.03" fill="#009185"/>
<rect x="687.35" y="316.95" width="8.05" height="8.03" fill="#00987c"/>
<rect x="695.41" y="316.95" width="16.11" height="8.03" fill="#009185"/>
<rect x="711.51" y="316.95" width="8.05" height="8.03" fill="#00987c"/>
<rect x="719.57" y="316.95" width="16.11" height="8.03" fill="#008b8e"/>
<rect x="735.68" y="316.95" width="16.11" height="8.03" fill="#008597"/>
<rect x="751.78" y="316.95" width="24.16" height="8.03" fill="#007fa0"/>
<rect x="775.95" y="316.95" width="8.05" height="8.03" fill="#008b8e"/>
<rect x="486.00" y="324.97" width="8.05" height="8.03" fill="#008b8e"/>
<rect x="494.05" y="324.97" width="8.05" height="8.03" fill="#008597"/>
<rect x="502.11" y="324.97" width="8.05" height="8.03" fill="#007fa0"/>
<rect x="510.16" y="324.97" width="32.22" height="8.03" fill="#008597"/>
<rect x="542.38" y="324.97" width="24.16" height="8.03" fill="#008b8e"/>
<rect x="566.54" y="324.97" width="8.05" height="8.03" fill="#009185"/>
<rect x="574.59" y="324.97" width="8.05" height="8.03" fill="#00987c"/>
<rect x="582.65" y="324.97" width="80.54" height="8.03" fill="#009e73"/>
<rect x="663.19" y="324.97" width="16.11" height="8.03" fill="#00987c"/>
<rect x="679.30" y="324.97" width="16.11" height="8.03" fill="#009185"/>
<rect x="695.41" y="324.97" width="32.22" height="8.03" fill="#008b8e"/>
<rect x="727.62" y="324.97" width="8.05" height="8.03" fill="#007fa0"/>
<rect x="735.68" y="324.97" width="8.05" height="8.03" fill="#008597"/>
<rect x="743.73" y="324.97" width="32.22" height="8.03" fill="#007fa0"/>
<rect x="775.95" y="324.97" width="8.05" height="8.03" fill="#008b8e"/>
</g>
<g clip-path="url(#c2)" fill="none" stroke="#000" stroke-width="0.9" stroke-linejoin="round">
<polyline points="500.0,24.7 515.3,28.0 560.8,37.8 614.9,47.0"/>
<polyline points="619.2,20.0 617.9,28.0 614.9,47.0 611.3,71.5"/>
<polyline points="611.3,71.5 648.2,76.8 678.0,80.2 741.3,86.5 778.6,89.3"/>
<polyline points="745.4,20.0 745.3,28.0 745.1,37.2 741.3,86.5"/>
<polyline points="745.1,37.2 791.7,40.4 800.0,41.0"/>
<polyline points="778.6,89.3 777.4,113.4 800.0,114.5"/>
<polyline points="777.4,113.4 776.6,128.0 773.2,187.4"/>
<polyline points="538.1,159.2 578.0,166.2 635.5,174.7 678.0,180.2 754.7,186.8 773.2,187.4 800.0,188.3"/>
<polyline points="754.7,186.8 753.4,199.3 800.0,201.7"/>
<polyline points="753.4,199.3 750.6,228.0 744.5,310.1"/>
<polyline points="669.5,303.2 672.2,303.2 680.0,304.5 744.5,310.1"/>
<polyline points="648.2,76.8 641.7,128.0 635.5,174.7 628.9,228.0 619.3,295.0 616.8,313.3"/>
<polyline points="560.8,37.8 544.1,128.0 538.1,159.2"/>
<polyline points="538.1,159.2 535.8,170.0 535.2,174.2 534.3,177.7 532.5,180.7 530.4,182.5 528.6,181.0 527.7,178.9 525.4,178.0 522.4,177.4 520.0,178.3 519.4,180.1 519.5,183.7 518.8,189.6 518.5,194.4 519.1,199.8 518.2,202.4 516.7,204.2 516.4,206.3 517.3,209.9 519.1,212.9 520.4,220.0 523.6,224.5 518.0,227.4 513.5,231.9 512.6,238.5 507.9,243.2 507.0,246.2 506.4,251.5 510.2,254.2 509.6,258.1 507.3,260.5 504.0,260.5 501.6,265.2 509.0,269.7 555.0,296.4 574.3,307.3 580.0,308.6 585.0,309.5 616.8,313.3 634.5,316.0 636.1,304.7 669.5,308.4 669.5,303.2"/>
<polyline points="669.5,308.4 673.8,310.2 676.1,313.7 677.7,317.2 680.0,319.5 682.1,320.3 687.5,325.7 691.6,332.5 695.6,335.9 701.7,340.6 704.0,343.0"/>
<polyline points="470.0,137.7 478.0,149.2 495.0,173.0 516.7,204.2"/>
<polyline points="470.0,257.8 490.0,258.4 504.0,260.5"/>
<polyline points="494.0,277.4 497.0,281.0 500.6,283.4 502.4,284.0 506.0,287.6 510.2,291.8 512.6,292.7 514.4,291.2 514.7,289.4 516.8,290.6 520.4,293.6 521.3,295.4 520.7,297.8 524.0,300.2 527.6,302.0 531.8,304.4 531.2,307.4 529.4,311.0 528.8,314.0 529.4,317.6 532.4,323.0 532.7,327.2 533.6,329.6 533.3,336.2 534.8,340.1 535.5,343.0"/>
<polyline points="494.0,277.4 496.0,280.5 497.6,284.0 497.0,286.4 495.2,290.0 493.7,294.8 493.1,300.2 494.0,302.0 495.8,304.4 495.2,311.0 495.5,315.2 494.0,320.0 493.4,323.0 494.6,327.2 497.0,330.2 497.6,332.9 500.0,334.4 501.8,336.8 503.9,340.1 505.5,343.0"/>
<polyline points="581.7,49.4 582.5,50.2 582.3,54.0 583.4,55.5 585.1,56.7 585.7,58.6 585.5,60.9 586.5,62.0 588.4,62.0 589.9,63.5 591.0,65.4 592.2,67.3 592.6,68.9 593.5,70.4 592.8,70.4 592.0,69.6 591.8,67.3 591.0,66.2 590.1,66.2 589.7,67.3 589.9,70.4 590.5,72.7 589.1,74.2 586.9,75.0 586.3,75.3 585.5,73.4 585.0,70.4 584.2,67.7 583.8,65.4 583.0,64.7 582.3,65.8 581.3,67.3 580.6,65.8 580.4,62.4 580.0,60.1 578.9,58.2 578.3,55.9 578.5,52.9 579.4,51.0 580.8,49.6 581.7,49.4"/>
</g>
<rect x="478.5" y="28.5" width="313.5" height="312" fill="none" stroke="#5a5a5a" stroke-width="1"/>
<line x1="485.0" y1="340.5" x2="786.9" y2="340.5" stroke="#222"/>
<line x1="478.5" y1="37.0" x2="478.5" y2="333.7" stroke="#222"/>
<line x1="485.5" y1="340.5" x2="485.5" y2="346.8" stroke="#333" stroke-width="1"/>
<text x="485.5" y="362" text-anchor="middle" font-size="11">-115</text>
<line x1="527.8" y1="340.5" x2="527.8" y2="346.8" stroke="#333" stroke-width="1"/>
<text x="527.8" y="362" text-anchor="middle" font-size="11">-113</text>
<line x1="570.5" y1="340.5" x2="570.5" y2="346.8" stroke="#333" stroke-width="1"/>
<text x="570.5" y="362" text-anchor="middle" font-size="11">-111</text>
<line x1="613.5" y1="340.5" x2="613.5" y2="346.8" stroke="#333" stroke-width="1"/>
<text x="613.5" y="362" text-anchor="middle" font-size="11">-109</text>
<line x1="656.5" y1="340.5" x2="656.5" y2="346.8" stroke="#333" stroke-width="1"/>
<text x="656.5" y="362" text-anchor="middle" font-size="11">-107</text>
<line x1="699.7" y1="340.5" x2="699.7" y2="346.8" stroke="#333" stroke-width="1"/>
<text x="699.7" y="362" text-anchor="middle" font-size="11">-105</text>
<line x1="743.0" y1="340.5" x2="743.0" y2="346.8" stroke="#333" stroke-width="1"/>
<text x="743.0" y="362" text-anchor="middle" font-size="11">-103</text>
<line x1="786.4" y1="340.5" x2="786.4" y2="346.8" stroke="#333" stroke-width="1"/>
<text x="786.4" y="362" text-anchor="middle" font-size="11">-101</text>
<line x1="472.2" y1="37.5" x2="478.5" y2="37.5" stroke="#333" stroke-width="1"/>
<text transform="translate(464.6 37.5) rotate(-90)" text-anchor="middle" font-size="11">43</text>
<line x1="472.2" y1="86.7" x2="478.5" y2="86.7" stroke="#333" stroke-width="1"/>
<text transform="translate(464.6 86.7) rotate(-90)" text-anchor="middle" font-size="11">41</text>
<line x1="472.2" y1="135.9" x2="478.5" y2="135.9" stroke="#333" stroke-width="1"/>
<text transform="translate(464.6 135.9) rotate(-90)" text-anchor="middle" font-size="11">39</text>
<line x1="472.2" y1="185.2" x2="478.5" y2="185.2" stroke="#333" stroke-width="1"/>
<text transform="translate(464.6 185.2) rotate(-90)" text-anchor="middle" font-size="11">37</text>
<line x1="472.2" y1="234.5" x2="478.5" y2="234.5" stroke="#333" stroke-width="1"/>
<text transform="translate(464.6 234.5) rotate(-90)" text-anchor="middle" font-size="11">35</text>
<line x1="472.2" y1="283.7" x2="478.5" y2="283.7" stroke="#333" stroke-width="1"/>
<text transform="translate(464.6 283.7) rotate(-90)" text-anchor="middle" font-size="11">33</text>
<line x1="472.2" y1="333.2" x2="478.5" y2="333.2" stroke="#333" stroke-width="1"/>
<text transform="translate(464.6 333.2) rotate(-90)" text-anchor="middle" font-size="11">31</text>
<text x="635.2" y="380.4" text-anchor="middle" font-size="12">Domain size: 37x37 | Max = 62 at (9, 1)</text>
<text x="635.2" y="392.4" text-anchor="middle" font-size="12" xml:space="preserve">Mean: 52 |  Median: 53</text>
<g shape-rendering="crispEdges">
<rect x="841.0" y="320.61" width="7" height="4.39" fill="#e5e5e5"/>
<rect x="841.0" y="316.22" width="7" height="4.39" fill="#dadada"/>
<rect x="841.0" y="311.84" width="7" height="4.39" fill="#cfcfcf"/>
<rect x="841.0" y="307.45" width="7" height="4.39" fill="#c4c4c4"/>
<rect x="841.0" y="303.06" width="7" height="4.39" fill="#bababa"/>
<rect x="841.0" y="298.67" width="7" height="4.39" fill="#afafaf"/>
<rect x="841.0" y="294.29" width="7" height="4.39" fill="#a4a4a4"/>
<rect x="841.0" y="289.90" width="7" height="4.39" fill="#999999"/>
<rect x="841.0" y="285.51" width="7" height="4.39" fill="#8f9da4"/>
<rect x="841.0" y="281.12" width="7" height="4.39" fill="#86a1b0"/>
<rect x="841.0" y="276.74" width="7" height="4.39" fill="#7ca5bb"/>
<rect x="841.0" y="272.35" width="7" height="4.39" fill="#73a8c7"/>
<rect x="841.0" y="267.96" width="7" height="4.39" fill="#69acd2"/>
<rect x="841.0" y="263.57" width="7" height="4.39" fill="#60b0de"/>
<rect x="841.0" y="259.19" width="7" height="4.39" fill="#56b4e9"/>
<rect x="841.0" y="254.80" width="7" height="4.39" fill="#4aabe1"/>
<rect x="841.0" y="250.41" width="7" height="4.39" fill="#3da1d9"/>
<rect x="841.0" y="246.02" width="7" height="4.39" fill="#3198d1"/>
<rect x="841.0" y="241.64" width="7" height="4.39" fill="#258eca"/>
<rect x="841.0" y="237.25" width="7" height="4.39" fill="#1985c2"/>
<rect x="841.0" y="232.86" width="7" height="4.39" fill="#0c7bba"/>
<rect x="841.0" y="228.47" width="7" height="4.39" fill="#0072b2"/>
<rect x="841.0" y="224.09" width="7" height="4.39" fill="#0078a9"/>
<rect x="841.0" y="219.70" width="7" height="4.39" fill="#007fa0"/>
<rect x="841.0" y="215.31" width="7" height="4.39" fill="#008597"/>
<rect x="841.0" y="210.92" width="7" height="4.39" fill="#008b8e"/>
<rect x="841.0" y="206.54" width="7" height="4.39" fill="#009185"/>
<rect x="841.0" y="202.15" width="7" height="4.39" fill="#00987c"/>
<rect x="841.0" y="197.76" width="7" height="4.39" fill="#009e73"/>
<rect x="841.0" y="193.37" width="7" height="4.39" fill="#22a86c"/>
<rect x="841.0" y="188.99" width="7" height="4.39" fill="#45b265"/>
<rect x="841.0" y="184.60" width="7" height="4.39" fill="#67bc5e"/>
<rect x="841.0" y="180.21" width="7" height="4.39" fill="#89c657"/>
<rect x="841.0" y="175.82" width="7" height="4.39" fill="#abd050"/>
<rect x="841.0" y="171.44" width="7" height="4.39" fill="#ceda49"/>
<rect x="841.0" y="167.05" width="7" height="4.39" fill="#f0e442"/>
<rect x="841.0" y="162.66" width="7" height="4.39" fill="#efda39"/>
<rect x="841.0" y="158.27" width="7" height="4.39" fill="#edd02f"/>
<rect x="841.0" y="153.89" width="7" height="4.39" fill="#ecc626"/>
<rect x="841.0" y="149.50" width="7" height="4.39" fill="#eabd1c"/>
<rect x="841.0" y="145.11" width="7" height="4.39" fill="#e9b313"/>
<rect x="841.0" y="140.72" width="7" height="4.39" fill="#e7a909"/>
<rect x="841.0" y="136.34" width="7" height="4.39" fill="#e69f00"/>
<rect x="841.0" y="131.95" width="7" height="4.39" fill="#e49600"/>
<rect x="841.0" y="127.56" width="7" height="4.39" fill="#e18c00"/>
<rect x="841.0" y="123.17" width="7" height="4.39" fill="#df8300"/>
<rect x="841.0" y="118.79" width="7" height="4.39" fill="#dc7a00"/>
<rect x="841.0" y="114.40" width="7" height="4.39" fill="#da7100"/>
<rect x="841.0" y="110.01" width="7" height="4.39" fill="#d76700"/>
<rect x="841.0" y="105.62" width="7" height="4.39" fill="#d55e00"/>
<rect x="841.0" y="101.24" width="7" height="4.39" fill="#d46218"/>
<rect x="841.0" y="96.85" width="7" height="4.39" fill="#d26630"/>
<rect x="841.0" y="92.46" width="7" height="4.39" fill="#d16a48"/>
<rect x="841.0" y="88.07" width="7" height="4.39" fill="#d06d5f"/>
<rect x="841.0" y="83.69" width="7" height="4.39" fill="#cf7177"/>
<rect x="841.0" y="79.30" width="7" height="4.39" fill="#cd758f"/>
<rect x="841.0" y="74.91" width="7" height="4.39" fill="#cc79a7"/>
<rect x="841.0" y="70.52" width="7" height="4.39" fill="#d3688f"/>
<rect x="841.0" y="66.14" width="7" height="4.39" fill="#db5677"/>
<rect x="841.0" y="61.75" width="7" height="4.39" fill="#e2455f"/>
<rect x="841.0" y="57.36" width="7" height="4.39" fill="#e93448"/>
<rect x="841.0" y="52.97" width="7" height="4.39" fill="#f02330"/>
<rect x="841.0" y="48.59" width="7" height="4.39" fill="#f81118"/>
<rect x="841.0" y="44.20" width="7" height="4.39" fill="#ff0000"/>
</g>
<line x1="841.0" y1="44.5" x2="848.0" y2="44.5" stroke="#000" stroke-opacity="0.45"/>
<line x1="840.0" y1="325.5" x2="849.0" y2="325.5" stroke="#555"/>
<line x1="840.5" y1="44.0" x2="840.5" y2="326.0" stroke="#687070"/>
<line x1="848.5" y1="44.0" x2="848.5" y2="326.0" stroke="#111"/>
<line x1="849.0" y1="322.70" x2="854.7" y2="322.70" stroke="#333" stroke-width="1"/>
<text x="859.8" y="327.40" font-size="11">0</text>
<line x1="849.0" y1="299.68" x2="854.7" y2="299.68" stroke="#333" stroke-width="1"/>
<text x="859.8" y="304.38" font-size="11">10</text>
<line x1="849.0" y1="276.67" x2="854.7" y2="276.67" stroke="#333" stroke-width="1"/>
<text x="859.8" y="281.37" font-size="11">20</text>
<line x1="849.0" y1="253.65" x2="854.7" y2="253.65" stroke="#333" stroke-width="1"/>
<text x="859.8" y="258.35" font-size="11">30</text>
<line x1="849.0" y1="230.63" x2="854.7" y2="230.63" stroke="#333" stroke-width="1"/>
<text x="859.8" y="235.33" font-size="11">40</text>
<line x1="849.0" y1="207.62" x2="854.7" y2="207.62" stroke="#333" stroke-width="1"/>
<text x="859.8" y="212.32" font-size="11">50</text>
<line x1="849.0" y1="184.60" x2="854.7" y2="184.60" stroke="#333" stroke-width="1"/>
<text x="859.8" y="189.30" font-size="11">60</text>
<line x1="849.0" y1="161.58" x2="854.7" y2="161.58" stroke="#333" stroke-width="1"/>
<text x="859.8" y="166.28" font-size="11">70</text>
<line x1="849.0" y1="138.57" x2="854.7" y2="138.57" stroke="#333" stroke-width="1"/>
<text x="859.8" y="143.27" font-size="11">80</text>
<line x1="849.0" y1="115.55" x2="854.7" y2="115.55" stroke="#333" stroke-width="1"/>
<text x="859.8" y="120.25" font-size="11">90</text>
<line x1="849.0" y1="92.53" x2="854.7" y2="92.53" stroke="#333" stroke-width="1"/>
<text x="859.8" y="97.23" font-size="11">100</text>
<line x1="849.0" y1="69.52" x2="854.7" y2="69.52" stroke="#333" stroke-width="1"/>
<text x="859.8" y="74.22" font-size="11">110</text>
<line x1="849.0" y1="46.50" x2="854.7" y2="46.50" stroke="#333" stroke-width="1"/>
<text x="859.8" y="51.20" font-size="11">120</text>
<text x="844.3" y="41.7" font-size="12" text-anchor="middle">ppbV</text>
<clipPath id="c3"><rect x="28.5" y="448.5" width="313.5" height="312.0"/></clipPath>
<text x="185.0" y="439.0" text-anchor="middle" font-size="12" font-weight="bold">Model 1 - Model 2: O3_MDA8</text>
<g shape-rendering="crispEdges">
<rect x="36.00" y="456.00" width="298.00" height="8.03" fill="#e5e5e5"/>
<rect x="36.00" y="464.03" width="298.00" height="8.03" fill="#e5e5e5"/>
<rect x="36.00" y="472.05" width="298.00" height="8.03" fill="#e5e5e5"/>
<rect x="36.00" y="480.08" width="298.00" height="8.03" fill="#e5e5e5"/>
<rect x="36.00" y="488.11" width="298.00" height="8.03" fill="#e5e5e5"/>
<rect x="36.00" y="496.14" width="298.00" height="8.03" fill="#e5e5e5"/>
<rect x="36.00" y="504.16" width="298.00" height="8.03" fill="#e5e5e5"/>
<rect x="36.00" y="512.19" width="298.00" height="8.03" fill="#e5e5e5"/>
<rect x="36.00" y="520.22" width="298.00" height="8.03" fill="#e5e5e5"/>
<rect x="36.00" y="528.24" width="298.00" height="8.03" fill="#e5e5e5"/>
<rect x="36.00" y="536.27" width="298.00" height="8.03" fill="#e5e5e5"/>
<rect x="36.00" y="544.30" width="298.00" height="8.03" fill="#e5e5e5"/>
<rect x="36.00" y="552.32" width="298.00" height="8.03" fill="#e5e5e5"/>
<rect x="36.00" y="560.35" width="298.00" height="8.03" fill="#e5e5e5"/>
<rect x="36.00" y="568.38" width="298.00" height="8.03" fill="#e5e5e5"/>
<rect x="36.00" y="576.41" width="298.00" height="8.03" fill="#e5e5e5"/>
<rect x="36.00" y="584.43" width="298.00" height="8.03" fill="#e5e5e5"/>
<rect x="36.00" y="592.46" width="298.00" height="8.03" fill="#e5e5e5"/>
<rect x="36.00" y="600.49" width="298.00" height="8.03" fill="#e5e5e5"/>
<rect x="36.00" y="608.51" width="289.95" height="8.03" fill="#e5e5e5"/>
<rect x="325.95" y="608.51" width="8.05" height="8.03" fill="#e6e5d8"/>
<rect x="36.00" y="616.54" width="289.95" height="8.03" fill="#e5e5e5"/>
<rect x="325.95" y="616.54" width="8.05" height="8.03" fill="#e6e5d8"/>
<rect x="36.00" y="624.57" width="298.00" height="8.03" fill="#e5e5e5"/>
<rect x="36.00" y="632.59" width="298.00" height="8.03" fill="#e5e5e5"/>
<rect x="36.00" y="640.62" width="298.00" height="8.03" fill="#e5e5e5"/>
<rect x="36.00" y="648.65" width="281.89" height="8.03" fill="#e5e5e5"/>
<rect x="317.89" y="648.65" width="16.11" height="8.03" fill="#e6e5d8"/>
<rect x="36.00" y="656.68" width="265.78" height="8.03" fill="#e5e5e5"/>
<rect x="301.78" y="656.68" width="24.16" height="8.03" fill="#e6e5d8"/>
<rect x="325.95" y="656.68" width="8.05" height="8.03" fill="#e7e5cb"/>
<rect x="36.00" y="664.70" width="257.73" height="8.03" fill="#e5e5e5"/>
<rect x="293.73" y="664.70" width="32.22" height="8.03" fill="#e6e5d8"/>
<rect x="325.95" y="664.70" width="8.05" height="8.03" fill="#e7e5cb"/>
<rect x="36.00" y="672.73" width="233.57" height="8.03" fill="#e5e5e5"/>
<rect x="269.57" y="672.73" width="56.38" height="8.03" fill="#e6e5d8"/>
<rect x="325.95" y="672.73" width="8.05" height="8.03" fill="#e7e5cb"/>
<rect x="36.00" y="680.76" width="298.00" height="8.03" fill="#e5e5e5"/>
<rect x="36.00" y="688.78" width="298.00" height="8.03" fill="#e5e5e5"/>
<rect x="36.00" y="696.81" width="289.95" height="8.03" fill="#e5e5e5"/>
<rect x="325.95" y="696.81" width="8.05" height="8.03" fill="#e6e5d8"/>
<rect x="36.00" y="704.84" width="281.89" height="8.03" fill="#e5e5e5"/>
<rect x="317.89" y="704.84" width="8.05" height="8.03" fill="#e6e5d8"/>
<rect x="325.95" y="704.84" width="8.05" height="8.03" fill="#e8e5b1"/>
<rect x="36.00" y="712.86" width="273.84" height="8.03" fill="#e5e5e5"/>
<rect x="309.84" y="712.86" width="8.05" height="8.03" fill="#e6e5d8"/>
<rect x="317.89" y="712.86" width="8.05" height="8.03" fill="#e8e5b1"/>
<rect x="325.95" y="712.86" width="8.05" height="8.03" fill="#e9e5a4"/>
<rect x="36.00" y="720.89" width="265.78" height="8.03" fill="#e5e5e5"/>
<rect x="301.78" y="720.89" width="8.05" height="8.03" fill="#e6e5d8"/>
<rect x="309.84" y="720.89" width="8.05" height="8.03" fill="#e7e5cb"/>
<rect x="317.89" y="720.89" width="16.11" height="8.03" fill="#eae597"/>
<rect x="36.00" y="728.92" width="241.62" height="8.03" fill="#e5e5e5"/>
<rect x="277.62" y="728.92" width="24.16" height="8.03" fill="#e6e5d8"/>
<rect x="301.78" y="728.92" width="8.05" height="8.03" fill="#e7e5cb"/>
<rect x="309.84" y="728.92" width="8.05" height="8.03" fill="#e9e5a4"/>
<rect x="317.89" y="728.92" width="8.05" height="8.03" fill="#eae597"/>
<rect x="325.95" y="728.92" width="8.05" height="8.03" fill="#ece47e"/>
<rect x="36.00" y="736.95" width="241.62" height="8.03" fill="#e5e5e5"/>
<rect x="277.62" y="736.95" width="8.05" height="8.03" fill="#e6e5d8"/>
<rect x="285.68" y="736.95" width="8.05" height="8.03" fill="#e7e5cb"/>
<rect x="293.73" y="736.95" width="8.05" height="8.03" fill="#e8e5b1"/>
<rect x="301.78" y="736.95" width="8.05" height="8.03" fill="#e9e5a4"/>
<rect x="309.84" y="736.95" width="8.05" height="8.03" fill="#eae597"/>
<rect x="317.89" y="736.95" width="8.05" height="8.03" fill="#ece47e"/>
<rect x="325.95" y="736.95" width="8.05" height="8.03" fill="#ede471"/>
<rect x="36.00" y="744.97" width="233.57" height="8.03" fill="#e5e5e5"/>
<rect x="269.57" y="744.97" width="8.05" height="8.03" fill="#e6e5d8"/>
<rect x="277.62" y="744.97" width="8.05" height="8.03" fill="#e7e5cb"/>
<rect x="285.68" y="744.97" width="8.05" height="8.03" fill="#e8e5b1"/>
<rect x="293.73" y="744.97" width="8.05" height="8.03" fill="#e9e5a4"/>
<rect x="301.78" y="744.97" width="8.05" height="8.03" fill="#eae597"/>
<rect x="309.84" y="744.97" width="8.05" height="8.03" fill="#ece47e"/>
<rect x="317.89" y="744.97" width="8.05" height="8.03" fill="#ede471"/>
<rect x="325.95" y="744.97" width="8.05" height="8.03" fill="#efe457"/>
</g>
<g clip-path="url(#c3)" fill="none" stroke="#000" stroke-width="0.9" stroke-linejoin="round">
<polyline points="50.0,444.7 65.3,448.0 110.8,457.8 164.9,467.0"/>
<polyline points="169.2,440.0 167.9,448.0 164.9,467.0 161.3,491.5"/>
<polyline points="161.3,491.5 198.2,496.8 228.0,500.2 291.3,506.5 328.6,509.3"/>
<polyline points="295.4,440.0 295.3,448.0 295.1,457.2 291.3,506.5"/>
<polyline points="295.1,457.2 341.7,460.4 350.0,461.0"/>
<polyline points="328.6,509.3 327.4,533.4 350.0,534.5"/>
<polyline points="327.4,533.4 326.6,548.0 323.2,607.4"/>
<polyline points="88.1,579.2 128.0,586.2 185.5,594.7 228.0,600.2 304.7,606.8 323.2,607.4 350.0,608.3"/>
<polyline points="304.7,606.8 303.4,619.3 350.0,621.7"/>
<polyline points="303.4,619.3 300.6,648.0 294.5,730.1"/>
<polyline points="219.5,723.2 222.2,723.2 230.0,724.5 294.5,730.1"/>
<polyline points="198.2,496.8 191.7,548.0 185.5,594.7 178.9,648.0 169.3,715.0 166.8,733.3"/>
<polyline points="110.8,457.8 94.1,548.0 88.1,579.2"/>
<polyline points="88.1,579.2 85.8,590.0 85.2,594.2 84.3,597.7 82.5,600.7 80.4,602.5 78.6,601.0 77.7,598.9 75.4,598.0 72.4,597.4 70.0,598.3 69.4,600.1 69.5,603.7 68.8,609.6 68.5,614.4 69.1,619.8 68.2,622.4 66.7,624.2 66.4,626.3 67.3,629.9 69.1,632.9 70.4,640.0 73.6,644.5 68.0,647.4 63.5,651.9 62.6,658.5 57.9,663.2 57.0,666.2 56.4,671.5 60.2,674.2 59.6,678.1 57.3,680.5 54.0,680.5 51.6,685.2 59.0,689.7 105.0,716.4 124.3,727.3 130.0,728.6 135.0,729.5 166.8,733.3 184.5,736.0 186.1,724.7 219.5,728.4 219.5,723.2"/>
<polyline points="219.5,728.4 223.8,730.2 226.1,733.7 227.7,737.2 230.0,739.5 232.1,740.3 237.5,745.7 241.6,752.5 245.6,755.9 251.7,760.6 254.0,763.0"/>
<polyline points="20.0,557.7 28.0,569.2 45.0,593.0 66.7,624.2"/>
<polyline points="20.0,677.8 40.0,678.4 54.0,680.5"/>
<polyline points="44.0,697.4 47.0,701.0 50.6,703.4 52.4,704.0 56.0,707.6 60.2,711.8 62.6,712.7 64.4,711.2 64.7,709.4 66.8,710.6 70.4,713.6 71.3,715.4 70.7,717.8 74.0,720.2 77.6,722.0 81.8,724.4 81.2,727.4 79.4,731.0 78.8,734.0 79.4,737.6 82.4,743.0 82.7,747.2 83.6,749.6 83.3,756.2 84.8,760.1 85.5,763.0"/>
<polyline points="44.0,697.4 46.0,700.5 47.6,704.0 47.0,706.4 45.2,710.0 43.7,714.8 43.1,720.2 44.0,722.0 45.8,724.4 45.2,731.0 45.5,735.2 44.0,740.0 43.4,743.0 44.6,747.2 47.0,750.2 47.6,752.9 50.0,754.4 51.8,756.8 53.9,760.1 55.5,763.0"/>
<polyline points="131.7,469.4 132.5,470.2 132.3,474.0 133.4,475.5 135.1,476.7 135.7,478.6 135.5,480.9 136.5,482.0 138.4,482.0 139.9,483.5 141.0,485.4 142.2,487.3 142.6,488.9 143.5,490.4 142.8,490.4 142.0,489.6 141.8,487.3 141.0,486.2 140.1,486.2 139.7,487.3 139.9,490.4 140.5,492.7 139.1,494.2 136.9,495.0 136.3,495.3 135.5,493.4 135.0,490.4 134.2,487.7 133.8,485.4 133.0,484.7 132.3,485.8 131.3,487.3 130.6,485.8 130.4,482.4 130.0,480.1 128.9,478.2 128.3,475.9 128.5,472.9 129.4,471.0 130.8,469.6 131.7,469.4"/>
</g>
<rect x="28.5" y="448.5" width="313.5" height="312" fill="none" stroke="#5a5a5a" stroke-width="1"/>
<text x="185.2" y="800.4" text-anchor="middle" font-size="12">Min = -0.319 | Max = 6.46</text>
<text x="185.2" y="812.4" text-anchor="middle" font-size="12" xml:space="preserve">Mean: 0.117 |  Median: 0.0176</text>
<g shape-rendering="crispEdges">
<rect x="391.0" y="740.61" width="7" height="4.39" fill="#e5e5e5"/>
<rect x="391.0" y="736.22" width="7" height="4.39" fill="#e6e5d8"/>
<rect x="391.0" y="731.84" width="7" height="4.39" fill="#e7e5cb"/>
<rect x="391.0" y="727.45" width="7" height="4.39" fill="#e8e5be"/>
<rect x="391.0" y="723.06" width="7" height="4.39" fill="#e8e5b1"/>
<rect x="391.0" y="718.67" width="7" height="4.39" fill="#e9e5a4"/>
<rect x="391.0" y="714.29" width="7" height="4.39" fill="#eae597"/>
<rect x="391.0" y="709.90" width="7" height="4.39" fill="#ebe48a"/>
<rect x="391.0" y="705.51" width="7" height="4.39" fill="#ece47e"/>
<rect x="391.0" y="701.12" width="7" height="4.39" fill="#ede471"/>
<rect x="391.0" y="696.74" width="7" height="4.39" fill="#eee464"/>
<rect x="391.0" y="692.35" width="7" height="4.39" fill="#efe457"/>
<rect x="391.0" y="687.96" width="7" height="4.39" fill="#efe44a"/>
<rect x="391.0" y="683.57" width="7" height="4.39" fill="#f0e240"/>
<rect x="391.0" y="679.19" width="7" height="4.39" fill="#efdc3b"/>
<rect x="391.0" y="674.80" width="7" height="4.39" fill="#eed735"/>
<rect x="391.0" y="670.41" width="7" height="4.39" fill="#edd130"/>
<rect x="391.0" y="666.02" width="7" height="4.39" fill="#edcc2b"/>
<rect x="391.0" y="661.64" width="7" height="4.39" fill="#ecc626"/>
<rect x="391.0" y="657.25" width="7" height="4.39" fill="#ebc120"/>
<rect x="391.0" y="652.86" width="7" height="4.39" fill="#eabb1b"/>
<rect x="391.0" y="648.48" width="7" height="4.39" fill="#e9b616"/>
<rect x="391.0" y="644.09" width="7" height="4.39" fill="#e9b111"/>
<rect x="391.0" y="639.70" width="7" height="4.39" fill="#e8ab0c"/>
<rect x="391.0" y="635.31" width="7" height="4.39" fill="#e7a606"/>
<rect x="391.0" y="630.92" width="7" height="4.39" fill="#e6a001"/>
<rect x="391.0" y="626.54" width="7" height="4.39" fill="#e59b00"/>
<rect x="391.0" y="622.15" width="7" height="4.39" fill="#e49600"/>
<rect x="391.0" y="617.76" width="7" height="4.39" fill="#e29100"/>
<rect x="391.0" y="613.38" width="7" height="4.39" fill="#e18b00"/>
<rect x="391.0" y="608.99" width="7" height="4.39" fill="#e08600"/>
<rect x="391.0" y="604.60" width="7" height="4.39" fill="#de8100"/>
<rect x="391.0" y="600.21" width="7" height="4.39" fill="#dd7c00"/>
<rect x="391.0" y="595.83" width="7" height="4.39" fill="#db7700"/>
<rect x="391.0" y="591.44" width="7" height="4.39" fill="#da7200"/>
<rect x="391.0" y="587.05" width="7" height="4.39" fill="#d96c00"/>
<rect x="391.0" y="582.66" width="7" height="4.39" fill="#d76700"/>
<rect x="391.0" y="578.27" width="7" height="4.39" fill="#d66200"/>
<rect x="391.0" y="573.89" width="7" height="4.39" fill="#d55e03"/>
<rect x="391.0" y="569.50" width="7" height="4.39" fill="#d46110"/>
<rect x="391.0" y="565.11" width="7" height="4.39" fill="#d3631d"/>
<rect x="391.0" y="560.72" width="7" height="4.39" fill="#d3652a"/>
<rect x="391.0" y="556.34" width="7" height="4.39" fill="#d26738"/>
<rect x="391.0" y="551.95" width="7" height="4.39" fill="#d16945"/>
<rect x="391.0" y="547.56" width="7" height="4.39" fill="#d16b52"/>
<rect x="391.0" y="543.17" width="7" height="4.39" fill="#d06d5f"/>
<rect x="391.0" y="538.79" width="7" height="4.39" fill="#cf706d"/>
<rect x="391.0" y="534.40" width="7" height="4.39" fill="#ce727a"/>
<rect x="391.0" y="530.01" width="7" height="4.39" fill="#ce7487"/>
<rect x="391.0" y="525.62" width="7" height="4.39" fill="#cd7694"/>
<rect x="391.0" y="521.24" width="7" height="4.39" fill="#cc78a2"/>
<rect x="391.0" y="516.85" width="7" height="4.39" fill="#ce739f"/>
<rect x="391.0" y="512.46" width="7" height="4.39" fill="#d26a92"/>
<rect x="391.0" y="508.07" width="7" height="4.39" fill="#d76085"/>
<rect x="391.0" y="503.69" width="7" height="4.39" fill="#db5677"/>
<rect x="391.0" y="499.30" width="7" height="4.39" fill="#df4d6a"/>
<rect x="391.0" y="494.91" width="7" height="4.39" fill="#e3435d"/>
<rect x="391.0" y="490.52" width="7" height="4.39" fill="#e73a50"/>
<rect x="391.0" y="486.14" width="7" height="4.39" fill="#eb3042"/>
<rect x="391.0" y="481.75" width="7" height="4.39" fill="#ef2635"/>
<rect x="391.0" y="477.36" width="7" height="4.39" fill="#f31d28"/>
<rect x="391.0" y="472.97" width="7" height="4.39" fill="#f7131b"/>
<rect x="391.0" y="468.59" width="7" height="4.39" fill="#fb0a0d"/>
<rect x="391.0" y="464.20" width="7" height="4.39" fill="#ff0000"/>
</g>
<line x1="391.0" y1="464.5" x2="398.0" y2="464.5" stroke="#000" stroke-opacity="0.45"/>
<line x1="390.0" y1="745.5" x2="399.0" y2="745.5" stroke="#555"/>
<line x1="390.5" y1="464.0" x2="390.5" y2="746.0" stroke="#687070"/>
<line x1="398.5" y1="464.0" x2="398.5" y2="746.0" stroke="#111"/>
<line x1="399.0" y1="743.30" x2="404.7" y2="743.30" stroke="#333" stroke-width="1"/>
<text x="409.8" y="748.00" font-size="11">0</text>
<line x1="399.0" y1="703.76" x2="404.7" y2="703.76" stroke="#333" stroke-width="1"/>
<text x="409.8" y="708.46" font-size="11">5</text>
<line x1="399.0" y1="664.21" x2="404.7" y2="664.21" stroke="#333" stroke-width="1"/>
<text x="409.8" y="668.91" font-size="11">10</text>
<line x1="399.0" y1="624.67" x2="404.7" y2="624.67" stroke="#333" stroke-width="1"/>
<text x="409.8" y="629.37" font-size="11">15</text>
<line x1="399.0" y1="585.13" x2="404.7" y2="585.13" stroke="#333" stroke-width="1"/>
<text x="409.8" y="589.83" font-size="11">20</text>
<line x1="399.0" y1="545.59" x2="404.7" y2="545.59" stroke="#333" stroke-width="1"/>
<text x="409.8" y="550.29" font-size="11">25</text>
<line x1="399.0" y1="506.04" x2="404.7" y2="506.04" stroke="#333" stroke-width="1"/>
<text x="409.8" y="510.74" font-size="11">30</text>
<line x1="399.0" y1="466.50" x2="404.7" y2="466.50" stroke="#333" stroke-width="1"/>
<text x="409.8" y="471.20" font-size="11">35</text>
<text x="394.3" y="461.7" font-size="12" text-anchor="middle">ppbV</text>
<clipPath id="c4"><rect x="478.5" y="448.5" width="313.5" height="312.0"/></clipPath>
<text x="635.0" y="439.0" text-anchor="middle" font-size="12" font-weight="bold">(Model 1 - Model 2)/(Model 1)x100%: O3_MDA8</text>
<g shape-rendering="crispEdges">
<rect x="486.00" y="456.00" width="298.00" height="8.03" fill="#e5e5e5"/>
<rect x="486.00" y="464.03" width="298.00" height="8.03" fill="#e5e5e5"/>
<rect x="486.00" y="472.05" width="298.00" height="8.03" fill="#e5e5e5"/>
<rect x="486.00" y="480.08" width="298.00" height="8.03" fill="#e5e5e5"/>
<rect x="486.00" y="488.11" width="298.00" height="8.03" fill="#e5e5e5"/>
<rect x="486.00" y="496.14" width="298.00" height="8.03" fill="#e5e5e5"/>
<rect x="486.00" y="504.16" width="298.00" height="8.03" fill="#e5e5e5"/>
<rect x="486.00" y="512.19" width="298.00" height="8.03" fill="#e5e5e5"/>
<rect x="486.00" y="520.22" width="298.00" height="8.03" fill="#e5e5e5"/>
<rect x="486.00" y="528.24" width="298.00" height="8.03" fill="#e5e5e5"/>
<rect x="486.00" y="536.27" width="298.00" height="8.03" fill="#e5e5e5"/>
<rect x="486.00" y="544.30" width="298.00" height="8.03" fill="#e5e5e5"/>
<rect x="486.00" y="552.32" width="298.00" height="8.03" fill="#e5e5e5"/>
<rect x="486.00" y="560.35" width="298.00" height="8.03" fill="#e5e5e5"/>
<rect x="486.00" y="568.38" width="298.00" height="8.03" fill="#e5e5e5"/>
<rect x="486.00" y="576.41" width="298.00" height="8.03" fill="#e5e5e5"/>
<rect x="486.00" y="584.43" width="298.00" height="8.03" fill="#e5e5e5"/>
<rect x="486.00" y="592.46" width="298.00" height="8.03" fill="#e5e5e5"/>
<rect x="486.00" y="600.49" width="298.00" height="8.03" fill="#e5e5e5"/>
<rect x="486.00" y="608.51" width="298.00" height="8.03" fill="#e5e5e5"/>
<rect x="486.00" y="616.54" width="298.00" height="8.03" fill="#e5e5e5"/>
<rect x="486.00" y="624.57" width="298.00" height="8.03" fill="#e5e5e5"/>
<rect x="486.00" y="632.59" width="298.00" height="8.03" fill="#e5e5e5"/>
<rect x="486.00" y="640.62" width="298.00" height="8.03" fill="#e5e5e5"/>
<rect x="486.00" y="648.65" width="281.89" height="8.03" fill="#e5e5e5"/>
<rect x="767.89" y="648.65" width="16.11" height="8.03" fill="#e6e5d8"/>
<rect x="486.00" y="656.68" width="273.84" height="8.03" fill="#e5e5e5"/>
<rect x="759.84" y="656.68" width="24.16" height="8.03" fill="#e6e5d8"/>
<rect x="486.00" y="664.70" width="265.78" height="8.03" fill="#e5e5e5"/>
<rect x="751.78" y="664.70" width="32.22" height="8.03" fill="#e6e5d8"/>
<rect x="486.00" y="672.73" width="265.78" height="8.03" fill="#e5e5e5"/>
<rect x="751.78" y="672.73" width="32.22" height="8.03" fill="#e6e5d8"/>
<rect x="486.00" y="680.76" width="298.00" height="8.03" fill="#e5e5e5"/>
<rect x="486.00" y="688.78" width="298.00" height="8.03" fill="#e5e5e5"/>
<rect x="486.00" y="696.81" width="289.95" height="8.03" fill="#e5e5e5"/>
<rect x="775.95" y="696.81" width="8.05" height="8.03" fill="#e6e5d8"/>
<rect x="486.00" y="704.84" width="281.89" height="8.03" fill="#e5e5e5"/>
<rect x="767.89" y="704.84" width="8.05" height="8.03" fill="#e6e5d8"/>
<rect x="775.95" y="704.84" width="8.05" height="8.03" fill="#e7e5cb"/>
<rect x="486.00" y="712.86" width="273.84" height="8.03" fill="#e5e5e5"/>
<rect x="759.84" y="712.86" width="8.05" height="8.03" fill="#e6e5d8"/>
<rect x="767.89" y="712.86" width="8.05" height="8.03" fill="#e7e5cb"/>
<rect x="775.95" y="712.86" width="8.05" height="8.03" fill="#e8e5be"/>
<rect x="486.00" y="720.89" width="265.78" height="8.03" fill="#e5e5e5"/>
<rect x="751.78" y="720.89" width="16.11" height="8.03" fill="#e6e5d8"/>
<rect x="767.89" y="720.89" width="16.11" height="8.03" fill="#e8e5b1"/>
<rect x="486.00" y="728.92" width="241.62" height="8.03" fill="#e5e5e5"/>
<rect x="727.62" y="728.92" width="32.22" height="8.03" fill="#e6e5d8"/>
<rect x="759.84" y="728.92" width="8.05" height="8.03" fill="#e8e5be"/>
<rect x="767.89" y="728.92" width="8.05" height="8.03" fill="#e8e5b1"/>
<rect x="775.95" y="728.92" width="8.05" height="8.03" fill="#e9e5a4"/>
<rect x="486.00" y="736.95" width="241.62" height="8.03" fill="#e5e5e5"/>
<rect x="727.62" y="736.95" width="16.11" height="8.03" fill="#e6e5d8"/>
<rect x="743.73" y="736.95" width="8.05" height="8.03" fill="#e7e5cb"/>
<rect x="751.78" y="736.95" width="8.05" height="8.03" fill="#e8e5be"/>
<rect x="759.84" y="736.95" width="8.05" height="8.03" fill="#e8e5b1"/>
<rect x="767.89" y="736.95" width="8.05" height="8.03" fill="#e9e5a4"/>
<rect x="775.95" y="736.95" width="8.05" height="8.03" fill="#eae597"/>
<rect x="486.00" y="744.97" width="233.57" height="8.03" fill="#e5e5e5"/>
<rect x="719.57" y="744.97" width="16.11" height="8.03" fill="#e6e5d8"/>
<rect x="735.68" y="744.97" width="8.05" height="8.03" fill="#e7e5cb"/>
<rect x="743.73" y="744.97" width="8.05" height="8.03" fill="#e8e5be"/>
<rect x="751.78" y="744.97" width="8.05" height="8.03" fill="#e8e5b1"/>
<rect x="759.84" y="744.97" width="8.05" height="8.03" fill="#e9e5a4"/>
<rect x="767.89" y="744.97" width="8.05" height="8.03" fill="#eae597"/>
<rect x="775.95" y="744.97" width="8.05" height="8.03" fill="#ebe48a"/>
</g>
<g clip-path="url(#c4)" fill="none" stroke="#000" stroke-width="0.9" stroke-linejoin="round">
<polyline points="500.0,444.7 515.3,448.0 560.8,457.8 614.9,467.0"/>
<polyline points="619.2,440.0 617.9,448.0 614.9,467.0 611.3,491.5"/>
<polyline points="611.3,491.5 648.2,496.8 678.0,500.2 741.3,506.5 778.6,509.3"/>
<polyline points="745.4,440.0 745.3,448.0 745.1,457.2 741.3,506.5"/>
<polyline points="745.1,457.2 791.7,460.4 800.0,461.0"/>
<polyline points="778.6,509.3 777.4,533.4 800.0,534.5"/>
<polyline points="777.4,533.4 776.6,548.0 773.2,607.4"/>
<polyline points="538.1,579.2 578.0,586.2 635.5,594.7 678.0,600.2 754.7,606.8 773.2,607.4 800.0,608.3"/>
<polyline points="754.7,606.8 753.4,619.3 800.0,621.7"/>
<polyline points="753.4,619.3 750.6,648.0 744.5,730.1"/>
<polyline points="669.5,723.2 672.2,723.2 680.0,724.5 744.5,730.1"/>
<polyline points="648.2,496.8 641.7,548.0 635.5,594.7 628.9,648.0 619.3,715.0 616.8,733.3"/>
<polyline points="560.8,457.8 544.1,548.0 538.1,579.2"/>
<polyline points="538.1,579.2 535.8,590.0 535.2,594.2 534.3,597.7 532.5,600.7 530.4,602.5 528.6,601.0 527.7,598.9 525.4,598.0 522.4,597.4 520.0,598.3 519.4,600.1 519.5,603.7 518.8,609.6 518.5,614.4 519.1,619.8 518.2,622.4 516.7,624.2 516.4,626.3 517.3,629.9 519.1,632.9 520.4,640.0 523.6,644.5 518.0,647.4 513.5,651.9 512.6,658.5 507.9,663.2 507.0,666.2 506.4,671.5 510.2,674.2 509.6,678.1 507.3,680.5 504.0,680.5 501.6,685.2 509.0,689.7 555.0,716.4 574.3,727.3 580.0,728.6 585.0,729.5 616.8,733.3 634.5,736.0 636.1,724.7 669.5,728.4 669.5,723.2"/>
<polyline points="669.5,728.4 673.8,730.2 676.1,733.7 677.7,737.2 680.0,739.5 682.1,740.3 687.5,745.7 691.6,752.5 695.6,755.9 701.7,760.6 704.0,763.0"/>
<polyline points="470.0,557.7 478.0,569.2 495.0,593.0 516.7,624.2"/>
<polyline points="470.0,677.8 490.0,678.4 504.0,680.5"/>
<polyline points="494.0,697.4 497.0,701.0 500.6,703.4 502.4,704.0 506.0,707.6 510.2,711.8 512.6,712.7 514.4,711.2 514.7,709.4 516.8,710.6 520.4,713.6 521.3,715.4 520.7,717.8 524.0,720.2 527.6,722.0 531.8,724.4 531.2,727.4 529.4,731.0 528.8,734.0 529.4,737.6 532.4,743.0 532.7,747.2 533.6,749.6 533.3,756.2 534.8,760.1 535.5,763.0"/>
<polyline points="494.0,697.4 496.0,700.5 497.6,704.0 497.0,706.4 495.2,710.0 493.7,714.8 493.1,720.2 494.0,722.0 495.8,724.4 495.2,731.0 495.5,735.2 494.0,740.0 493.4,743.0 494.6,747.2 497.0,750.2 497.6,752.9 500.0,754.4 501.8,756.8 503.9,760.1 505.5,763.0"/>
<polyline points="581.7,469.4 582.5,470.2 582.3,474.0 583.4,475.5 585.1,476.7 585.7,478.6 585.5,480.9 586.5,482.0 588.4,482.0 589.9,483.5 591.0,485.4 592.2,487.3 592.6,488.9 593.5,490.4 592.8,490.4 592.0,489.6 591.8,487.3 591.0,486.2 590.1,486.2 589.7,487.3 589.9,490.4 590.5,492.7 589.1,494.2 586.9,495.0 586.3,495.3 585.5,493.4 585.0,490.4 584.2,487.7 583.8,485.4 583.0,484.7 582.3,485.8 581.3,487.3 580.6,485.8 580.4,482.4 580.0,480.1 578.9,478.2 578.3,475.9 578.5,472.9 579.4,471.0 580.8,469.6 581.7,469.4"/>
</g>
<rect x="478.5" y="448.5" width="313.5" height="312" fill="none" stroke="#5a5a5a" stroke-width="1"/>
<text x="635.2" y="800.4" text-anchor="middle" font-size="12">Min = -0.6 | Max = 12.1</text>
<text x="635.2" y="812.4" text-anchor="middle" font-size="12" xml:space="preserve">Mean: 0.2 |  Median: 0</text>
<g shape-rendering="crispEdges">
<rect x="841.0" y="740.61" width="7" height="4.39" fill="#e5e5e5"/>
<rect x="841.0" y="736.22" width="7" height="4.39" fill="#e6e5d8"/>
<rect x="841.0" y="731.84" width="7" height="4.39" fill="#e7e5cb"/>
<rect x="841.0" y="727.45" width="7" height="4.39" fill="#e8e5be"/>
<rect x="841.0" y="723.06" width="7" height="4.39" fill="#e8e5b1"/>
<rect x="841.0" y="718.67" width="7" height="4.39" fill="#e9e5a4"/>
<rect x="841.0" y="714.29" width="7" height="4.39" fill="#eae597"/>
<rect x="841.0" y="709.90" width="7" height="4.39" fill="#ebe48a"/>
<rect x="841.0" y="705.51" width="7" height="4.39" fill="#ece47e"/>
<rect x="841.0" y="701.12" width="7" height="4.39" fill="#ede471"/>
<rect x="841.0" y="696.74" width="7" height="4.39" fill="#eee464"/>
<rect x="841.0" y="692.35" width="7" height="4.39" fill="#efe457"/>
<rect x="841.0" y="687.96" width="7" height="4.39" fill="#efe44a"/>
<rect x="841.0" y="683.57" width="7" height="4.39" fill="#f0e240"/>
<rect x="841.0" y="679.19" width="7" height="4.39" fill="#efdc3b"/>
<rect x="841.0" y="674.80" width="7" height="4.39" fill="#eed735"/>
<rect x="841.0" y="670.41" width="7" height="4.39" fill="#edd130"/>
<rect x="841.0" y="666.02" width="7" height="4.39" fill="#edcc2b"/>
<rect x="841.0" y="661.64" width="7" height="4.39" fill="#ecc626"/>
<rect x="841.0" y="657.25" width="7" height="4.39" fill="#ebc120"/>
<rect x="841.0" y="652.86" width="7" height="4.39" fill="#eabb1b"/>
<rect x="841.0" y="648.48" width="7" height="4.39" fill="#e9b616"/>
<rect x="841.0" y="644.09" width="7" height="4.39" fill="#e9b111"/>
<rect x="841.0" y="639.70" width="7" height="4.39" fill="#e8ab0c"/>
<rect x="841.0" y="635.31" width="7" height="4.39" fill="#e7a606"/>
<rect x="841.0" y="630.92" width="7" height="4.39" fill="#e6a001"/>
<rect x="841.0" y="626.54" width="7" height="4.39" fill="#e59b00"/>
<rect x="841.0" y="622.15" width="7" height="4.39" fill="#e49600"/>
<rect x="841.0" y="617.76" width="7" height="4.39" fill="#e29100"/>
<rect x="841.0" y="613.38" width="7" height="4.39" fill="#e18b00"/>
<rect x="841.0" y="608.99" width="7" height="4.39" fill="#e08600"/>
<rect x="841.0" y="604.60" width="7" height="4.39" fill="#de8100"/>
<rect x="841.0" y="600.21" width="7" height="4.39" fill="#dd7c00"/>
<rect x="841.0" y="595.83" width="7" height="4.39" fill="#db7700"/>
<rect x="841.0" y="591.44" width="7" height="4.39" fill="#da7200"/>
<rect x="841.0" y="587.05" width="7" height="4.39" fill="#d96c00"/>
<rect x="841.0" y="582.66" width="7" height="4.39" fill="#d76700"/>
<rect x="841.0" y="578.27" width="7" height="4.39" fill="#d66200"/>
<rect x="841.0" y="573.89" width="7" height="4.39" fill="#d55e03"/>
<rect x="841.0" y="569.50" width="7" height="4.39" fill="#d46110"/>
<rect x="841.0" y="565.11" width="7" height="4.39" fill="#d3631d"/>
<rect x="841.0" y="560.72" width="7" height="4.39" fill="#d3652a"/>
<rect x="841.0" y="556.34" width="7" height="4.39" fill="#d26738"/>
<rect x="841.0" y="551.95" width="7" height="4.39" fill="#d16945"/>
<rect x="841.0" y="547.56" width="7" height="4.39" fill="#d16b52"/>
<rect x="841.0" y="543.17" width="7" height="4.39" fill="#d06d5f"/>
<rect x="841.0" y="538.79" width="7" height="4.39" fill="#cf706d"/>
<rect x="841.0" y="534.40" width="7" height="4.39" fill="#ce727a"/>
<rect x="841.0" y="530.01" width="7" height="4.39" fill="#ce7487"/>
<rect x="841.0" y="525.62" width="7" height="4.39" fill="#cd7694"/>
<rect x="841.0" y="521.24" width="7" height="4.39" fill="#cc78a2"/>
<rect x="841.0" y="516.85" width="7" height="4.39" fill="#ce739f"/>
<rect x="841.0" y="512.46" width="7" height="4.39" fill="#d26a92"/>
<rect x="841.0" y="508.07" width="7" height="4.39" fill="#d76085"/>
<rect x="841.0" y="503.69" width="7" height="4.39" fill="#db5677"/>
<rect x="841.0" y="499.30" width="7" height="4.39" fill="#df4d6a"/>
<rect x="841.0" y="494.91" width="7" height="4.39" fill="#e3435d"/>
<rect x="841.0" y="490.52" width="7" height="4.39" fill="#e73a50"/>
<rect x="841.0" y="486.14" width="7" height="4.39" fill="#eb3042"/>
<rect x="841.0" y="481.75" width="7" height="4.39" fill="#ef2635"/>
<rect x="841.0" y="477.36" width="7" height="4.39" fill="#f31d28"/>
<rect x="841.0" y="472.97" width="7" height="4.39" fill="#f7131b"/>
<rect x="841.0" y="468.59" width="7" height="4.39" fill="#fb0a0d"/>
<rect x="841.0" y="464.20" width="7" height="4.39" fill="#ff0000"/>
</g>
<line x1="841.0" y1="464.5" x2="848.0" y2="464.5" stroke="#000" stroke-opacity="0.45"/>
<line x1="840.0" y1="745.5" x2="849.0" y2="745.5" stroke="#555"/>
<line x1="840.5" y1="464.0" x2="840.5" y2="746.0" stroke="#687070"/>
<line x1="848.5" y1="464.0" x2="848.5" y2="746.0" stroke="#111"/>
<line x1="849.0" y1="742.50" x2="854.7" y2="742.50" stroke="#333" stroke-width="1"/>
<text x="859.8" y="747.20" font-size="11">0</text>
<line x1="849.0" y1="714.98" x2="854.7" y2="714.98" stroke="#333" stroke-width="1"/>
<text x="859.8" y="719.68" font-size="11">10</text>
<line x1="849.0" y1="687.46" x2="854.7" y2="687.46" stroke="#333" stroke-width="1"/>
<text x="859.8" y="692.16" font-size="11">20</text>
<line x1="849.0" y1="659.94" x2="854.7" y2="659.94" stroke="#333" stroke-width="1"/>
<text x="859.8" y="664.64" font-size="11">30</text>
<line x1="849.0" y1="632.42" x2="854.7" y2="632.42" stroke="#333" stroke-width="1"/>
<text x="859.8" y="637.12" font-size="11">40</text>
<line x1="849.0" y1="604.90" x2="854.7" y2="604.90" stroke="#333" stroke-width="1"/>
<text x="859.8" y="609.60" font-size="11">50</text>
<line x1="849.0" y1="577.38" x2="854.7" y2="577.38" stroke="#333" stroke-width="1"/>
<text x="859.8" y="582.08" font-size="11">60</text>
<line x1="849.0" y1="549.86" x2="854.7" y2="549.86" stroke="#333" stroke-width="1"/>
<text x="859.8" y="554.56" font-size="11">70</text>
<line x1="849.0" y1="522.34" x2="854.7" y2="522.34" stroke="#333" stroke-width="1"/>
<text x="859.8" y="527.04" font-size="11">80</text>
<line x1="849.0" y1="494.82" x2="854.7" y2="494.82" stroke="#333" stroke-width="1"/>
<text x="859.8" y="499.52" font-size="11">90</text>
<line x1="849.0" y1="467.30" x2="854.7" y2="467.30" stroke="#333" stroke-width="1"/>
<text x="859.8" y="472.00" font-size="11">100</text>
<text x="844.3" y="461.7" font-size="12" text-anchor="middle">%</text>
</svg></body></html>
